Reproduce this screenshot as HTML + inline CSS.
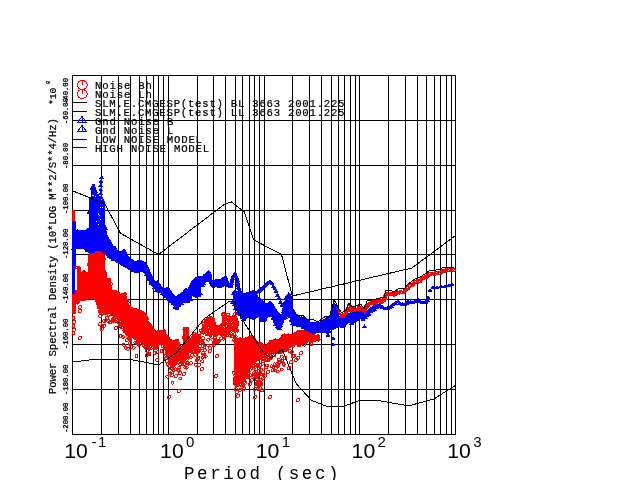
<!DOCTYPE html><html><head><meta charset="utf-8"><title>Noise PSD</title><style>
html,body{margin:0;padding:0;background:#fff;}svg{display:block;}
text{font-family:"Liberation Mono","DejaVu Sans Mono",monospace;fill:#000;stroke:#000;stroke-width:0.22px;}.t{stroke-width:0.3px;}.n{stroke:none;}
.s{font-family:"Liberation Sans","DejaVu Sans",sans-serif;}
</style></head><body>
<svg width="640" height="480" viewBox="0 0 640 480" shape-rendering="crispEdges">
<rect width="640" height="480" fill="#fff"/>
<path d="M72.5 75V435M101.5 75V435M118.5 75V435M130.5 75V435M139.5 75V435M146.5 75V435M153.5 75V435M158.5 75V435M163.5 75V435M168.5 75V435M197.5 75V435M213.5 75V435M225.5 75V435M235.5 75V435M242.5 75V435M249.5 75V435M254.5 75V435M259.5 75V435M264.5 75V435M292.5 75V435M309.5 75V435M321.5 75V435M331.5 75V435M338.5 75V435M344.5 75V435M350.5 75V435M355.5 75V435M359.5 75V435M388.5 75V435M405.5 75V435M417.5 75V435M426.5 75V435M434.5 75V435M440.5 75V435M446.5 75V435M451.5 75V435M455.5 75V435M72 75.5H456M72 120.5H456M72 165.5H456M72 210.5H456M72 254.5H456M72 299.5H456M72 344.5H456M72 389.5H456M72 434.5H456" stroke="#000" stroke-width="1" fill="none"/>
<polygon points="77,267 80,267 81,272 85,272 88,274 89,258 92,251 96,251 98,251 100,251 102,252 104,253 105,270 107,278 110,279 112,290 116,291 118,293 121,296 123,294 125,293 126,296 128,303 130,308 134,308 138,310 142,311 146,314 148,321 150,324 153,329 157,332 160,331 164,330 166,335 170,339 174,341 177,339 180,346 183,347 184,327 188,327 189,341 192,337 196,333 198,335 198,354 196,350 192,349 189,352 188,356 184,363 183,362 180,360 177,363 174,364 170,362 166,352 164,345 160,344 157,348 153,346 150,344 148,344 146,344 142,342 138,340 134,338 130,336 128,334 126,331 125,329 123,325 121,321 118,318 116,318 112,315 110,312 107,310 105,311 104,311 102,310 100,308 98,305 96,300 92,298 89,298 88,299 85,300 81,300 80,301 77,305" fill="#f00" stroke="#f00" stroke-width="1" stroke-linejoin="round"/>
<path d="M72 210h3v80h2.5v12h-1.5v12h-4z" fill="#f00"/>
<polygon points="234,338.5 238,338.5 240,337.5 244,339 248,337 250,336 252,335 254,338 256,340 258,342 262,343 265,346 268,345 270,341 275,339.5 278,341 280,338 284,335 288,334 292,334.5 296,332.5 300,330.5 304,330.5 308,330.5 310,334 314,335 319,335 319,340 314,341 310,341 308,342 304,343 300,344 296,344 292,345 288,349 284,352 280,353 278,353 275,353 270,353 268,353 265,355 262,358 258,360 256,362 254,364 252,364 250,366 248,371 244,374 240,376 238,376 234,374" fill="#f00" stroke="#f00" stroke-width="1" stroke-linejoin="round"/>
<path d="M75.3 267.6a1.5 1.5 0 1 0 3 0a1.5 1.5 0 1 0 -3 0M75.7 302.4a1.5 1.5 0 1 0 3 0a1.5 1.5 0 1 0 -3 0M76.8 268.2a1.5 1.5 0 1 0 3 0a1.5 1.5 0 1 0 -3 0M76.4 301.8a1.5 1.5 0 1 0 3 0a1.5 1.5 0 1 0 -3 0M77.6 268.3a1.5 1.5 0 1 0 3 0a1.5 1.5 0 1 0 -3 0M77.7 299.0a1.5 1.5 0 1 0 3 0a1.5 1.5 0 1 0 -3 0M79.3 273.8a1.5 1.5 0 1 0 3 0a1.5 1.5 0 1 0 -3 0M79.0 297.9a1.5 1.5 0 1 0 3 0a1.5 1.5 0 1 0 -3 0M80.8 274.7a1.5 1.5 0 1 0 3 0a1.5 1.5 0 1 0 -3 0M80.8 298.2a1.5 1.5 0 1 0 3 0a1.5 1.5 0 1 0 -3 0M82.5 272.3a1.5 1.5 0 1 0 3 0a1.5 1.5 0 1 0 -3 0M82.4 298.0a1.5 1.5 0 1 0 3 0a1.5 1.5 0 1 0 -3 0M82.9 272.5a1.5 1.5 0 1 0 3 0a1.5 1.5 0 1 0 -3 0M83.1 299.3a1.5 1.5 0 1 0 3 0a1.5 1.5 0 1 0 -3 0M84.3 274.4a1.5 1.5 0 1 0 3 0a1.5 1.5 0 1 0 -3 0M84.7 297.8a1.5 1.5 0 1 0 3 0a1.5 1.5 0 1 0 -3 0M85.9 274.0a1.5 1.5 0 1 0 3 0a1.5 1.5 0 1 0 -3 0M85.5 296.9a1.5 1.5 0 1 0 3 0a1.5 1.5 0 1 0 -3 0M87.4 264.1a1.5 1.5 0 1 0 3 0a1.5 1.5 0 1 0 -3 0M87.0 297.0a1.5 1.5 0 1 0 3 0a1.5 1.5 0 1 0 -3 0M88.5 256.6a1.5 1.5 0 1 0 3 0a1.5 1.5 0 1 0 -3 0M88.8 297.0a1.5 1.5 0 1 0 3 0a1.5 1.5 0 1 0 -3 0M89.5 254.3a1.5 1.5 0 1 0 3 0a1.5 1.5 0 1 0 -3 0M89.8 297.5a1.5 1.5 0 1 0 3 0a1.5 1.5 0 1 0 -3 0M91.3 251.9a1.5 1.5 0 1 0 3 0a1.5 1.5 0 1 0 -3 0M91.6 295.8a1.5 1.5 0 1 0 3 0a1.5 1.5 0 1 0 -3 0M92.3 253.2a1.5 1.5 0 1 0 3 0a1.5 1.5 0 1 0 -3 0M92.1 297.4a1.5 1.5 0 1 0 3 0a1.5 1.5 0 1 0 -3 0M93.2 252.9a1.5 1.5 0 1 0 3 0a1.5 1.5 0 1 0 -3 0M94.0 298.3a1.5 1.5 0 1 0 3 0a1.5 1.5 0 1 0 -3 0M95.4 252.0a1.5 1.5 0 1 0 3 0a1.5 1.5 0 1 0 -3 0M95.2 300.0a1.5 1.5 0 1 0 3 0a1.5 1.5 0 1 0 -3 0M96.4 252.4a1.5 1.5 0 1 0 3 0a1.5 1.5 0 1 0 -3 0M96.6 304.2a1.5 1.5 0 1 0 3 0a1.5 1.5 0 1 0 -3 0M97.6 252.9a1.5 1.5 0 1 0 3 0a1.5 1.5 0 1 0 -3 0M97.2 305.7a1.5 1.5 0 1 0 3 0a1.5 1.5 0 1 0 -3 0M99.0 254.0a1.5 1.5 0 1 0 3 0a1.5 1.5 0 1 0 -3 0M99.2 306.3a1.5 1.5 0 1 0 3 0a1.5 1.5 0 1 0 -3 0M100.1 253.8a1.5 1.5 0 1 0 3 0a1.5 1.5 0 1 0 -3 0M99.7 308.1a1.5 1.5 0 1 0 3 0a1.5 1.5 0 1 0 -3 0M101.2 253.0a1.5 1.5 0 1 0 3 0a1.5 1.5 0 1 0 -3 0M101.1 309.7a1.5 1.5 0 1 0 3 0a1.5 1.5 0 1 0 -3 0M102.4 258.9a1.5 1.5 0 1 0 3 0a1.5 1.5 0 1 0 -3 0M102.7 310.5a1.5 1.5 0 1 0 3 0a1.5 1.5 0 1 0 -3 0M103.7 273.8a1.5 1.5 0 1 0 3 0a1.5 1.5 0 1 0 -3 0M104.1 310.2a1.5 1.5 0 1 0 3 0a1.5 1.5 0 1 0 -3 0M105.7 280.0a1.5 1.5 0 1 0 3 0a1.5 1.5 0 1 0 -3 0M105.2 308.3a1.5 1.5 0 1 0 3 0a1.5 1.5 0 1 0 -3 0M106.6 280.9a1.5 1.5 0 1 0 3 0a1.5 1.5 0 1 0 -3 0M107.2 308.4a1.5 1.5 0 1 0 3 0a1.5 1.5 0 1 0 -3 0M107.7 279.6a1.5 1.5 0 1 0 3 0a1.5 1.5 0 1 0 -3 0M107.7 310.1a1.5 1.5 0 1 0 3 0a1.5 1.5 0 1 0 -3 0M109.4 284.3a1.5 1.5 0 1 0 3 0a1.5 1.5 0 1 0 -3 0M108.8 311.5a1.5 1.5 0 1 0 3 0a1.5 1.5 0 1 0 -3 0M110.5 291.7a1.5 1.5 0 1 0 3 0a1.5 1.5 0 1 0 -3 0M111.1 314.1a1.5 1.5 0 1 0 3 0a1.5 1.5 0 1 0 -3 0M111.9 292.2a1.5 1.5 0 1 0 3 0a1.5 1.5 0 1 0 -3 0M112.1 313.4a1.5 1.5 0 1 0 3 0a1.5 1.5 0 1 0 -3 0M113.6 292.9a1.5 1.5 0 1 0 3 0a1.5 1.5 0 1 0 -3 0M113.6 316.3a1.5 1.5 0 1 0 3 0a1.5 1.5 0 1 0 -3 0M114.4 292.2a1.5 1.5 0 1 0 3 0a1.5 1.5 0 1 0 -3 0M114.1 316.8a1.5 1.5 0 1 0 3 0a1.5 1.5 0 1 0 -3 0M115.4 292.7a1.5 1.5 0 1 0 3 0a1.5 1.5 0 1 0 -3 0M115.5 315.6a1.5 1.5 0 1 0 3 0a1.5 1.5 0 1 0 -3 0M116.9 293.9a1.5 1.5 0 1 0 3 0a1.5 1.5 0 1 0 -3 0M116.6 316.2a1.5 1.5 0 1 0 3 0a1.5 1.5 0 1 0 -3 0M118.0 296.0a1.5 1.5 0 1 0 3 0a1.5 1.5 0 1 0 -3 0M117.9 319.4a1.5 1.5 0 1 0 3 0a1.5 1.5 0 1 0 -3 0M119.8 296.4a1.5 1.5 0 1 0 3 0a1.5 1.5 0 1 0 -3 0M119.5 319.5a1.5 1.5 0 1 0 3 0a1.5 1.5 0 1 0 -3 0M120.9 295.0a1.5 1.5 0 1 0 3 0a1.5 1.5 0 1 0 -3 0M121.3 323.8a1.5 1.5 0 1 0 3 0a1.5 1.5 0 1 0 -3 0M122.3 295.1a1.5 1.5 0 1 0 3 0a1.5 1.5 0 1 0 -3 0M121.9 324.1a1.5 1.5 0 1 0 3 0a1.5 1.5 0 1 0 -3 0M123.4 294.2a1.5 1.5 0 1 0 3 0a1.5 1.5 0 1 0 -3 0M123.9 326.8a1.5 1.5 0 1 0 3 0a1.5 1.5 0 1 0 -3 0M124.4 300.1a1.5 1.5 0 1 0 3 0a1.5 1.5 0 1 0 -3 0M124.9 329.2a1.5 1.5 0 1 0 3 0a1.5 1.5 0 1 0 -3 0M126.2 302.2a1.5 1.5 0 1 0 3 0a1.5 1.5 0 1 0 -3 0M126.2 333.3a1.5 1.5 0 1 0 3 0a1.5 1.5 0 1 0 -3 0M127.9 307.5a1.5 1.5 0 1 0 3 0a1.5 1.5 0 1 0 -3 0M127.3 333.2a1.5 1.5 0 1 0 3 0a1.5 1.5 0 1 0 -3 0M128.5 310.2a1.5 1.5 0 1 0 3 0a1.5 1.5 0 1 0 -3 0M128.8 335.4a1.5 1.5 0 1 0 3 0a1.5 1.5 0 1 0 -3 0M129.9 308.8a1.5 1.5 0 1 0 3 0a1.5 1.5 0 1 0 -3 0M130.4 336.6a1.5 1.5 0 1 0 3 0a1.5 1.5 0 1 0 -3 0M131.8 310.3a1.5 1.5 0 1 0 3 0a1.5 1.5 0 1 0 -3 0M131.7 336.6a1.5 1.5 0 1 0 3 0a1.5 1.5 0 1 0 -3 0M132.4 309.6a1.5 1.5 0 1 0 3 0a1.5 1.5 0 1 0 -3 0M132.6 335.4a1.5 1.5 0 1 0 3 0a1.5 1.5 0 1 0 -3 0M133.5 309.7a1.5 1.5 0 1 0 3 0a1.5 1.5 0 1 0 -3 0M133.8 337.8a1.5 1.5 0 1 0 3 0a1.5 1.5 0 1 0 -3 0M135.8 310.8a1.5 1.5 0 1 0 3 0a1.5 1.5 0 1 0 -3 0M135.7 339.2a1.5 1.5 0 1 0 3 0a1.5 1.5 0 1 0 -3 0M137.1 311.2a1.5 1.5 0 1 0 3 0a1.5 1.5 0 1 0 -3 0M136.3 337.8a1.5 1.5 0 1 0 3 0a1.5 1.5 0 1 0 -3 0M137.6 311.1a1.5 1.5 0 1 0 3 0a1.5 1.5 0 1 0 -3 0M138.0 340.2a1.5 1.5 0 1 0 3 0a1.5 1.5 0 1 0 -3 0M139.5 312.1a1.5 1.5 0 1 0 3 0a1.5 1.5 0 1 0 -3 0M139.4 340.6a1.5 1.5 0 1 0 3 0a1.5 1.5 0 1 0 -3 0M140.1 312.9a1.5 1.5 0 1 0 3 0a1.5 1.5 0 1 0 -3 0M140.9 341.2a1.5 1.5 0 1 0 3 0a1.5 1.5 0 1 0 -3 0M142.1 313.4a1.5 1.5 0 1 0 3 0a1.5 1.5 0 1 0 -3 0M141.5 341.9a1.5 1.5 0 1 0 3 0a1.5 1.5 0 1 0 -3 0M142.9 315.2a1.5 1.5 0 1 0 3 0a1.5 1.5 0 1 0 -3 0M143.6 341.5a1.5 1.5 0 1 0 3 0a1.5 1.5 0 1 0 -3 0M144.3 316.6a1.5 1.5 0 1 0 3 0a1.5 1.5 0 1 0 -3 0M144.6 341.6a1.5 1.5 0 1 0 3 0a1.5 1.5 0 1 0 -3 0M145.3 318.8a1.5 1.5 0 1 0 3 0a1.5 1.5 0 1 0 -3 0M146.1 343.3a1.5 1.5 0 1 0 3 0a1.5 1.5 0 1 0 -3 0M146.6 324.1a1.5 1.5 0 1 0 3 0a1.5 1.5 0 1 0 -3 0M147.5 342.9a1.5 1.5 0 1 0 3 0a1.5 1.5 0 1 0 -3 0M148.2 325.3a1.5 1.5 0 1 0 3 0a1.5 1.5 0 1 0 -3 0M147.9 341.2a1.5 1.5 0 1 0 3 0a1.5 1.5 0 1 0 -3 0M150.1 327.7a1.5 1.5 0 1 0 3 0a1.5 1.5 0 1 0 -3 0M149.6 344.4a1.5 1.5 0 1 0 3 0a1.5 1.5 0 1 0 -3 0M150.8 330.5a1.5 1.5 0 1 0 3 0a1.5 1.5 0 1 0 -3 0M151.2 343.3a1.5 1.5 0 1 0 3 0a1.5 1.5 0 1 0 -3 0M152.0 330.5a1.5 1.5 0 1 0 3 0a1.5 1.5 0 1 0 -3 0M151.9 345.1a1.5 1.5 0 1 0 3 0a1.5 1.5 0 1 0 -3 0M153.3 331.8a1.5 1.5 0 1 0 3 0a1.5 1.5 0 1 0 -3 0M153.1 346.6a1.5 1.5 0 1 0 3 0a1.5 1.5 0 1 0 -3 0M154.7 332.9a1.5 1.5 0 1 0 3 0a1.5 1.5 0 1 0 -3 0M154.9 347.2a1.5 1.5 0 1 0 3 0a1.5 1.5 0 1 0 -3 0M156.0 334.4a1.5 1.5 0 1 0 3 0a1.5 1.5 0 1 0 -3 0M156.1 345.8a1.5 1.5 0 1 0 3 0a1.5 1.5 0 1 0 -3 0M157.4 331.6a1.5 1.5 0 1 0 3 0a1.5 1.5 0 1 0 -3 0M157.3 343.1a1.5 1.5 0 1 0 3 0a1.5 1.5 0 1 0 -3 0M158.2 333.2a1.5 1.5 0 1 0 3 0a1.5 1.5 0 1 0 -3 0M158.4 342.5a1.5 1.5 0 1 0 3 0a1.5 1.5 0 1 0 -3 0M160.2 332.3a1.5 1.5 0 1 0 3 0a1.5 1.5 0 1 0 -3 0M159.8 342.9a1.5 1.5 0 1 0 3 0a1.5 1.5 0 1 0 -3 0M161.4 332.5a1.5 1.5 0 1 0 3 0a1.5 1.5 0 1 0 -3 0M160.9 343.4a1.5 1.5 0 1 0 3 0a1.5 1.5 0 1 0 -3 0M162.3 331.2a1.5 1.5 0 1 0 3 0a1.5 1.5 0 1 0 -3 0M162.9 343.9a1.5 1.5 0 1 0 3 0a1.5 1.5 0 1 0 -3 0M164.0 335.7a1.5 1.5 0 1 0 3 0a1.5 1.5 0 1 0 -3 0M164.3 348.3a1.5 1.5 0 1 0 3 0a1.5 1.5 0 1 0 -3 0M165.3 337.2a1.5 1.5 0 1 0 3 0a1.5 1.5 0 1 0 -3 0M165.2 352.8a1.5 1.5 0 1 0 3 0a1.5 1.5 0 1 0 -3 0M166.5 338.6a1.5 1.5 0 1 0 3 0a1.5 1.5 0 1 0 -3 0M166.5 356.6a1.5 1.5 0 1 0 3 0a1.5 1.5 0 1 0 -3 0M168.0 340.8a1.5 1.5 0 1 0 3 0a1.5 1.5 0 1 0 -3 0M168.2 358.1a1.5 1.5 0 1 0 3 0a1.5 1.5 0 1 0 -3 0M169.2 342.0a1.5 1.5 0 1 0 3 0a1.5 1.5 0 1 0 -3 0M169.4 359.9a1.5 1.5 0 1 0 3 0a1.5 1.5 0 1 0 -3 0M170.0 341.3a1.5 1.5 0 1 0 3 0a1.5 1.5 0 1 0 -3 0M170.0 360.8a1.5 1.5 0 1 0 3 0a1.5 1.5 0 1 0 -3 0M171.3 342.5a1.5 1.5 0 1 0 3 0a1.5 1.5 0 1 0 -3 0M172.0 363.1a1.5 1.5 0 1 0 3 0a1.5 1.5 0 1 0 -3 0M172.7 342.7a1.5 1.5 0 1 0 3 0a1.5 1.5 0 1 0 -3 0M173.2 361.4a1.5 1.5 0 1 0 3 0a1.5 1.5 0 1 0 -3 0M174.7 342.5a1.5 1.5 0 1 0 3 0a1.5 1.5 0 1 0 -3 0M174.0 363.1a1.5 1.5 0 1 0 3 0a1.5 1.5 0 1 0 -3 0M175.5 340.7a1.5 1.5 0 1 0 3 0a1.5 1.5 0 1 0 -3 0M176.1 362.3a1.5 1.5 0 1 0 3 0a1.5 1.5 0 1 0 -3 0M176.6 343.6a1.5 1.5 0 1 0 3 0a1.5 1.5 0 1 0 -3 0M176.9 359.7a1.5 1.5 0 1 0 3 0a1.5 1.5 0 1 0 -3 0M177.9 346.3a1.5 1.5 0 1 0 3 0a1.5 1.5 0 1 0 -3 0M178.4 357.6a1.5 1.5 0 1 0 3 0a1.5 1.5 0 1 0 -3 0M179.6 347.7a1.5 1.5 0 1 0 3 0a1.5 1.5 0 1 0 -3 0M179.0 358.7a1.5 1.5 0 1 0 3 0a1.5 1.5 0 1 0 -3 0M180.9 348.3a1.5 1.5 0 1 0 3 0a1.5 1.5 0 1 0 -3 0M180.4 361.3a1.5 1.5 0 1 0 3 0a1.5 1.5 0 1 0 -3 0M182.4 337.7a1.5 1.5 0 1 0 3 0a1.5 1.5 0 1 0 -3 0M181.7 360.5a1.5 1.5 0 1 0 3 0a1.5 1.5 0 1 0 -3 0M182.9 329.2a1.5 1.5 0 1 0 3 0a1.5 1.5 0 1 0 -3 0M183.2 359.0a1.5 1.5 0 1 0 3 0a1.5 1.5 0 1 0 -3 0M184.6 329.6a1.5 1.5 0 1 0 3 0a1.5 1.5 0 1 0 -3 0M185.0 357.0a1.5 1.5 0 1 0 3 0a1.5 1.5 0 1 0 -3 0M185.6 329.6a1.5 1.5 0 1 0 3 0a1.5 1.5 0 1 0 -3 0M186.1 355.9a1.5 1.5 0 1 0 3 0a1.5 1.5 0 1 0 -3 0M186.9 338.5a1.5 1.5 0 1 0 3 0a1.5 1.5 0 1 0 -3 0M187.5 351.1a1.5 1.5 0 1 0 3 0a1.5 1.5 0 1 0 -3 0M188.2 342.2a1.5 1.5 0 1 0 3 0a1.5 1.5 0 1 0 -3 0M188.7 350.2a1.5 1.5 0 1 0 3 0a1.5 1.5 0 1 0 -3 0M189.5 340.2a1.5 1.5 0 1 0 3 0a1.5 1.5 0 1 0 -3 0M189.5 349.0a1.5 1.5 0 1 0 3 0a1.5 1.5 0 1 0 -3 0M191.2 337.4a1.5 1.5 0 1 0 3 0a1.5 1.5 0 1 0 -3 0M191.3 348.8a1.5 1.5 0 1 0 3 0a1.5 1.5 0 1 0 -3 0M192.3 335.5a1.5 1.5 0 1 0 3 0a1.5 1.5 0 1 0 -3 0M192.5 347.3a1.5 1.5 0 1 0 3 0a1.5 1.5 0 1 0 -3 0M193.4 334.3a1.5 1.5 0 1 0 3 0a1.5 1.5 0 1 0 -3 0M193.4 347.5a1.5 1.5 0 1 0 3 0a1.5 1.5 0 1 0 -3 0M194.9 334.6a1.5 1.5 0 1 0 3 0a1.5 1.5 0 1 0 -3 0M195.4 349.2a1.5 1.5 0 1 0 3 0a1.5 1.5 0 1 0 -3 0M196.4 335.6a1.5 1.5 0 1 0 3 0a1.5 1.5 0 1 0 -3 0M196.2 351.0a1.5 1.5 0 1 0 3 0a1.5 1.5 0 1 0 -3 0M123.0 329.2a1.5 1.5 0 1 0 3 0a1.5 1.5 0 1 0 -3 0M170.3 367.9a1.5 1.5 0 1 0 3 0a1.5 1.5 0 1 0 -3 0M117.1 322.8a1.5 1.5 0 1 0 3 0a1.5 1.5 0 1 0 -3 0M190.1 351.0a1.5 1.5 0 1 0 3 0a1.5 1.5 0 1 0 -3 0M178.8 364.0a1.5 1.5 0 1 0 3 0a1.5 1.5 0 1 0 -3 0M147.0 354.0a1.5 1.5 0 1 0 3 0a1.5 1.5 0 1 0 -3 0M137.0 344.8a1.5 1.5 0 1 0 3 0a1.5 1.5 0 1 0 -3 0M165.9 376.7a1.5 1.5 0 1 0 3 0a1.5 1.5 0 1 0 -3 0M132.1 347.7a1.5 1.5 0 1 0 3 0a1.5 1.5 0 1 0 -3 0M167.8 366.2a1.5 1.5 0 1 0 3 0a1.5 1.5 0 1 0 -3 0M138.2 344.0a1.5 1.5 0 1 0 3 0a1.5 1.5 0 1 0 -3 0M103.8 312.5a1.5 1.5 0 1 0 3 0a1.5 1.5 0 1 0 -3 0M105.4 317.8a1.5 1.5 0 1 0 3 0a1.5 1.5 0 1 0 -3 0M123.5 331.0a1.5 1.5 0 1 0 3 0a1.5 1.5 0 1 0 -3 0M106.8 321.1a1.5 1.5 0 1 0 3 0a1.5 1.5 0 1 0 -3 0M183.8 367.3a1.5 1.5 0 1 0 3 0a1.5 1.5 0 1 0 -3 0M126.1 335.8a1.5 1.5 0 1 0 3 0a1.5 1.5 0 1 0 -3 0M127.2 338.8a1.5 1.5 0 1 0 3 0a1.5 1.5 0 1 0 -3 0M113.9 321.5a1.5 1.5 0 1 0 3 0a1.5 1.5 0 1 0 -3 0M124.3 347.9a1.5 1.5 0 1 0 3 0a1.5 1.5 0 1 0 -3 0M193.8 354.8a1.5 1.5 0 1 0 3 0a1.5 1.5 0 1 0 -3 0M122.5 344.8a1.5 1.5 0 1 0 3 0a1.5 1.5 0 1 0 -3 0M128.8 339.4a1.5 1.5 0 1 0 3 0a1.5 1.5 0 1 0 -3 0M98.6 311.5a1.5 1.5 0 1 0 3 0a1.5 1.5 0 1 0 -3 0M145.0 348.5a1.5 1.5 0 1 0 3 0a1.5 1.5 0 1 0 -3 0M118.2 324.2a1.5 1.5 0 1 0 3 0a1.5 1.5 0 1 0 -3 0M99.0 311.0a1.5 1.5 0 1 0 3 0a1.5 1.5 0 1 0 -3 0M107.3 314.7a1.5 1.5 0 1 0 3 0a1.5 1.5 0 1 0 -3 0M102.6 312.1a1.5 1.5 0 1 0 3 0a1.5 1.5 0 1 0 -3 0M128.3 338.1a1.5 1.5 0 1 0 3 0a1.5 1.5 0 1 0 -3 0M155.9 352.3a1.5 1.5 0 1 0 3 0a1.5 1.5 0 1 0 -3 0M172.1 370.1a1.5 1.5 0 1 0 3 0a1.5 1.5 0 1 0 -3 0M168.7 373.6a1.5 1.5 0 1 0 3 0a1.5 1.5 0 1 0 -3 0M136.7 343.1a1.5 1.5 0 1 0 3 0a1.5 1.5 0 1 0 -3 0M195.0 352.8a1.5 1.5 0 1 0 3 0a1.5 1.5 0 1 0 -3 0M169.5 368.6a1.5 1.5 0 1 0 3 0a1.5 1.5 0 1 0 -3 0M102.8 321.0a1.5 1.5 0 1 0 3 0a1.5 1.5 0 1 0 -3 0M185.9 363.0a1.5 1.5 0 1 0 3 0a1.5 1.5 0 1 0 -3 0M170.4 372.3a1.5 1.5 0 1 0 3 0a1.5 1.5 0 1 0 -3 0M112.2 320.9a1.5 1.5 0 1 0 3 0a1.5 1.5 0 1 0 -3 0M147.9 354.0a1.5 1.5 0 1 0 3 0a1.5 1.5 0 1 0 -3 0M177.4 370.9a1.5 1.5 0 1 0 3 0a1.5 1.5 0 1 0 -3 0M155.7 359.8a1.5 1.5 0 1 0 3 0a1.5 1.5 0 1 0 -3 0M165.4 361.2a1.5 1.5 0 1 0 3 0a1.5 1.5 0 1 0 -3 0M121.0 325.2a1.5 1.5 0 1 0 3 0a1.5 1.5 0 1 0 -3 0M111.5 319.0a1.5 1.5 0 1 0 3 0a1.5 1.5 0 1 0 -3 0M108.8 322.5a1.5 1.5 0 1 0 3 0a1.5 1.5 0 1 0 -3 0M153.2 352.8a1.5 1.5 0 1 0 3 0a1.5 1.5 0 1 0 -3 0M159.9 351.1a1.5 1.5 0 1 0 3 0a1.5 1.5 0 1 0 -3 0M146.5 345.0a1.5 1.5 0 1 0 3 0a1.5 1.5 0 1 0 -3 0M176.7 369.7a1.5 1.5 0 1 0 3 0a1.5 1.5 0 1 0 -3 0M147.8 348.8a1.5 1.5 0 1 0 3 0a1.5 1.5 0 1 0 -3 0M163.1 348.5a1.5 1.5 0 1 0 3 0a1.5 1.5 0 1 0 -3 0M170.7 365.6a1.5 1.5 0 1 0 3 0a1.5 1.5 0 1 0 -3 0M105.8 312.7a1.5 1.5 0 1 0 3 0a1.5 1.5 0 1 0 -3 0M170.0 364.9a1.5 1.5 0 1 0 3 0a1.5 1.5 0 1 0 -3 0M171.0 382.8a1.5 1.5 0 1 0 3 0a1.5 1.5 0 1 0 -3 0M146.9 347.4a1.5 1.5 0 1 0 3 0a1.5 1.5 0 1 0 -3 0M145.4 350.8a1.5 1.5 0 1 0 3 0a1.5 1.5 0 1 0 -3 0M173.7 369.4a1.5 1.5 0 1 0 3 0a1.5 1.5 0 1 0 -3 0M161.5 346.2a1.5 1.5 0 1 0 3 0a1.5 1.5 0 1 0 -3 0M112.9 319.3a1.5 1.5 0 1 0 3 0a1.5 1.5 0 1 0 -3 0M171.3 366.2a1.5 1.5 0 1 0 3 0a1.5 1.5 0 1 0 -3 0M154.1 348.4a1.5 1.5 0 1 0 3 0a1.5 1.5 0 1 0 -3 0M104.4 313.1a1.5 1.5 0 1 0 3 0a1.5 1.5 0 1 0 -3 0M164.4 358.4a1.5 1.5 0 1 0 3 0a1.5 1.5 0 1 0 -3 0M164.7 355.3a1.5 1.5 0 1 0 3 0a1.5 1.5 0 1 0 -3 0M149.1 348.5a1.5 1.5 0 1 0 3 0a1.5 1.5 0 1 0 -3 0M144.2 345.5a1.5 1.5 0 1 0 3 0a1.5 1.5 0 1 0 -3 0M186.1 358.8a1.5 1.5 0 1 0 3 0a1.5 1.5 0 1 0 -3 0M194.4 364.7a1.5 1.5 0 1 0 3 0a1.5 1.5 0 1 0 -3 0M100.2 313.8a1.5 1.5 0 1 0 3 0a1.5 1.5 0 1 0 -3 0M178.8 378.5a1.5 1.5 0 1 0 3 0a1.5 1.5 0 1 0 -3 0M142.5 345.6a1.5 1.5 0 1 0 3 0a1.5 1.5 0 1 0 -3 0M119.1 336.1a1.5 1.5 0 1 0 3 0a1.5 1.5 0 1 0 -3 0M119.1 326.0a1.5 1.5 0 1 0 3 0a1.5 1.5 0 1 0 -3 0M112.4 321.1a1.5 1.5 0 1 0 3 0a1.5 1.5 0 1 0 -3 0M191.9 351.1a1.5 1.5 0 1 0 3 0a1.5 1.5 0 1 0 -3 0M178.9 364.8a1.5 1.5 0 1 0 3 0a1.5 1.5 0 1 0 -3 0M185.4 365.0a1.5 1.5 0 1 0 3 0a1.5 1.5 0 1 0 -3 0M121.2 336.8a1.5 1.5 0 1 0 3 0a1.5 1.5 0 1 0 -3 0M146.1 345.1a1.5 1.5 0 1 0 3 0a1.5 1.5 0 1 0 -3 0M98.9 312.7a1.5 1.5 0 1 0 3 0a1.5 1.5 0 1 0 -3 0M142.7 345.9a1.5 1.5 0 1 0 3 0a1.5 1.5 0 1 0 -3 0M112.3 319.4a1.5 1.5 0 1 0 3 0a1.5 1.5 0 1 0 -3 0M129.5 346.7a1.5 1.5 0 1 0 3 0a1.5 1.5 0 1 0 -3 0M98.7 316.1a1.5 1.5 0 1 0 3 0a1.5 1.5 0 1 0 -3 0M180.7 363.1a1.5 1.5 0 1 0 3 0a1.5 1.5 0 1 0 -3 0M189.3 357.5a1.5 1.5 0 1 0 3 0a1.5 1.5 0 1 0 -3 0M186.9 357.3a1.5 1.5 0 1 0 3 0a1.5 1.5 0 1 0 -3 0M135.0 342.7a1.5 1.5 0 1 0 3 0a1.5 1.5 0 1 0 -3 0M196.4 359.2a1.5 1.5 0 1 0 3 0a1.5 1.5 0 1 0 -3 0M133.8 342.5a1.5 1.5 0 1 0 3 0a1.5 1.5 0 1 0 -3 0M125.5 333.7a1.5 1.5 0 1 0 3 0a1.5 1.5 0 1 0 -3 0M108.5 322.0a1.5 1.5 0 1 0 3 0a1.5 1.5 0 1 0 -3 0M126.5 348.7a1.5 1.5 0 1 0 3 0a1.5 1.5 0 1 0 -3 0M122.9 330.4a1.5 1.5 0 1 0 3 0a1.5 1.5 0 1 0 -3 0M148.6 346.1a1.5 1.5 0 1 0 3 0a1.5 1.5 0 1 0 -3 0M135.1 355.9a1.5 1.5 0 1 0 3 0a1.5 1.5 0 1 0 -3 0M185.2 367.7a1.5 1.5 0 1 0 3 0a1.5 1.5 0 1 0 -3 0M78.5 307.0a1.5 1.5 0 1 0 3 0a1.5 1.5 0 1 0 -3 0M78.5 311.0a1.5 1.5 0 1 0 3 0a1.5 1.5 0 1 0 -3 0M72.0 318.0a1.5 1.5 0 1 0 3 0a1.5 1.5 0 1 0 -3 0M72.5 322.0a1.5 1.5 0 1 0 3 0a1.5 1.5 0 1 0 -3 0M72.0 326.0a1.5 1.5 0 1 0 3 0a1.5 1.5 0 1 0 -3 0M72.5 330.0a1.5 1.5 0 1 0 3 0a1.5 1.5 0 1 0 -3 0M72.0 333.0a1.5 1.5 0 1 0 3 0a1.5 1.5 0 1 0 -3 0M78.5 338.0a1.5 1.5 0 1 0 3 0a1.5 1.5 0 1 0 -3 0M98.5 324.0a1.5 1.5 0 1 0 3 0a1.5 1.5 0 1 0 -3 0M100.5 326.0a1.5 1.5 0 1 0 3 0a1.5 1.5 0 1 0 -3 0M102.5 326.0a1.5 1.5 0 1 0 3 0a1.5 1.5 0 1 0 -3 0M100.5 329.0a1.5 1.5 0 1 0 3 0a1.5 1.5 0 1 0 -3 0M104.5 320.0a1.5 1.5 0 1 0 3 0a1.5 1.5 0 1 0 -3 0M97.5 307.0a1.5 1.5 0 1 0 3 0a1.5 1.5 0 1 0 -3 0M114.5 328.0a1.5 1.5 0 1 0 3 0a1.5 1.5 0 1 0 -3 0M120.5 327.0a1.5 1.5 0 1 0 3 0a1.5 1.5 0 1 0 -3 0M125.5 340.0a1.5 1.5 0 1 0 3 0a1.5 1.5 0 1 0 -3 0M128.5 343.0a1.5 1.5 0 1 0 3 0a1.5 1.5 0 1 0 -3 0M132.5 335.0a1.5 1.5 0 1 0 3 0a1.5 1.5 0 1 0 -3 0M145.5 355.0a1.5 1.5 0 1 0 3 0a1.5 1.5 0 1 0 -3 0M166.5 364.0a1.5 1.5 0 1 0 3 0a1.5 1.5 0 1 0 -3 0M169.5 363.0a1.5 1.5 0 1 0 3 0a1.5 1.5 0 1 0 -3 0M173.5 364.0a1.5 1.5 0 1 0 3 0a1.5 1.5 0 1 0 -3 0M177.5 368.0a1.5 1.5 0 1 0 3 0a1.5 1.5 0 1 0 -3 0M170.5 375.0a1.5 1.5 0 1 0 3 0a1.5 1.5 0 1 0 -3 0M174.5 376.0a1.5 1.5 0 1 0 3 0a1.5 1.5 0 1 0 -3 0M178.5 373.0a1.5 1.5 0 1 0 3 0a1.5 1.5 0 1 0 -3 0M182.5 374.0a1.5 1.5 0 1 0 3 0a1.5 1.5 0 1 0 -3 0M182.5 364.0a1.5 1.5 0 1 0 3 0a1.5 1.5 0 1 0 -3 0M189.5 363.0a1.5 1.5 0 1 0 3 0a1.5 1.5 0 1 0 -3 0M177.5 391.0a1.5 1.5 0 1 0 3 0a1.5 1.5 0 1 0 -3 0M167.5 397.0a1.5 1.5 0 1 0 3 0a1.5 1.5 0 1 0 -3 0M195.5 360.0a1.5 1.5 0 1 0 3 0a1.5 1.5 0 1 0 -3 0M197.5 365.0a1.5 1.5 0 1 0 3 0a1.5 1.5 0 1 0 -3 0M200.5 369.0a1.5 1.5 0 1 0 3 0a1.5 1.5 0 1 0 -3 0M201.5 353.0a1.5 1.5 0 1 0 3 0a1.5 1.5 0 1 0 -3 0M201.5 346.0a1.5 1.5 0 1 0 3 0a1.5 1.5 0 1 0 -3 0M201.5 343.0a1.5 1.5 0 1 0 3 0a1.5 1.5 0 1 0 -3 0M201.5 357.0a1.5 1.5 0 1 0 3 0a1.5 1.5 0 1 0 -3 0M190.5 355.0a1.5 1.5 0 1 0 3 0a1.5 1.5 0 1 0 -3 0M208.5 351.0a1.5 1.5 0 1 0 3 0a1.5 1.5 0 1 0 -3 0M215.5 356.0a1.5 1.5 0 1 0 3 0a1.5 1.5 0 1 0 -3 0M214.5 376.0a1.5 1.5 0 1 0 3 0a1.5 1.5 0 1 0 -3 0M215.5 342.0a1.5 1.5 0 1 0 3 0a1.5 1.5 0 1 0 -3 0M223.2 333.1a1.5 1.5 0 1 0 3 0a1.5 1.5 0 1 0 -3 0M234.4 324.8a1.5 1.5 0 1 0 3 0a1.5 1.5 0 1 0 -3 0M226.4 317.0a1.5 1.5 0 1 0 3 0a1.5 1.5 0 1 0 -3 0M226.9 324.4a1.5 1.5 0 1 0 3 0a1.5 1.5 0 1 0 -3 0M227.6 327.5a1.5 1.5 0 1 0 3 0a1.5 1.5 0 1 0 -3 0M210.8 318.9a1.5 1.5 0 1 0 3 0a1.5 1.5 0 1 0 -3 0M233.9 319.6a1.5 1.5 0 1 0 3 0a1.5 1.5 0 1 0 -3 0M217.5 330.4a1.5 1.5 0 1 0 3 0a1.5 1.5 0 1 0 -3 0M211.2 330.1a1.5 1.5 0 1 0 3 0a1.5 1.5 0 1 0 -3 0M235.6 324.2a1.5 1.5 0 1 0 3 0a1.5 1.5 0 1 0 -3 0M224.1 319.4a1.5 1.5 0 1 0 3 0a1.5 1.5 0 1 0 -3 0M220.6 324.8a1.5 1.5 0 1 0 3 0a1.5 1.5 0 1 0 -3 0M206.5 321.3a1.5 1.5 0 1 0 3 0a1.5 1.5 0 1 0 -3 0M208.0 333.6a1.5 1.5 0 1 0 3 0a1.5 1.5 0 1 0 -3 0M218.4 327.3a1.5 1.5 0 1 0 3 0a1.5 1.5 0 1 0 -3 0M233.1 330.0a1.5 1.5 0 1 0 3 0a1.5 1.5 0 1 0 -3 0M216.7 329.4a1.5 1.5 0 1 0 3 0a1.5 1.5 0 1 0 -3 0M207.4 319.8a1.5 1.5 0 1 0 3 0a1.5 1.5 0 1 0 -3 0M212.8 323.2a1.5 1.5 0 1 0 3 0a1.5 1.5 0 1 0 -3 0M209.1 322.2a1.5 1.5 0 1 0 3 0a1.5 1.5 0 1 0 -3 0M221.0 333.1a1.5 1.5 0 1 0 3 0a1.5 1.5 0 1 0 -3 0M227.5 324.6a1.5 1.5 0 1 0 3 0a1.5 1.5 0 1 0 -3 0M215.4 332.7a1.5 1.5 0 1 0 3 0a1.5 1.5 0 1 0 -3 0M214.1 328.4a1.5 1.5 0 1 0 3 0a1.5 1.5 0 1 0 -3 0M202.7 325.5a1.5 1.5 0 1 0 3 0a1.5 1.5 0 1 0 -3 0M235.3 322.0a1.5 1.5 0 1 0 3 0a1.5 1.5 0 1 0 -3 0M218.6 331.6a1.5 1.5 0 1 0 3 0a1.5 1.5 0 1 0 -3 0M231.6 319.4a1.5 1.5 0 1 0 3 0a1.5 1.5 0 1 0 -3 0M210.3 321.7a1.5 1.5 0 1 0 3 0a1.5 1.5 0 1 0 -3 0M214.9 331.1a1.5 1.5 0 1 0 3 0a1.5 1.5 0 1 0 -3 0M234.8 329.0a1.5 1.5 0 1 0 3 0a1.5 1.5 0 1 0 -3 0M231.9 317.1a1.5 1.5 0 1 0 3 0a1.5 1.5 0 1 0 -3 0M201.7 331.8a1.5 1.5 0 1 0 3 0a1.5 1.5 0 1 0 -3 0M232.7 323.3a1.5 1.5 0 1 0 3 0a1.5 1.5 0 1 0 -3 0M221.6 314.4a1.5 1.5 0 1 0 3 0a1.5 1.5 0 1 0 -3 0M214.6 334.5a1.5 1.5 0 1 0 3 0a1.5 1.5 0 1 0 -3 0M230.2 328.7a1.5 1.5 0 1 0 3 0a1.5 1.5 0 1 0 -3 0M235.5 323.7a1.5 1.5 0 1 0 3 0a1.5 1.5 0 1 0 -3 0M204.4 322.4a1.5 1.5 0 1 0 3 0a1.5 1.5 0 1 0 -3 0M219.3 331.6a1.5 1.5 0 1 0 3 0a1.5 1.5 0 1 0 -3 0M234.4 326.8a1.5 1.5 0 1 0 3 0a1.5 1.5 0 1 0 -3 0M223.8 329.6a1.5 1.5 0 1 0 3 0a1.5 1.5 0 1 0 -3 0M217.0 332.4a1.5 1.5 0 1 0 3 0a1.5 1.5 0 1 0 -3 0M201.9 332.7a1.5 1.5 0 1 0 3 0a1.5 1.5 0 1 0 -3 0M208.9 333.5a1.5 1.5 0 1 0 3 0a1.5 1.5 0 1 0 -3 0M223.7 319.4a1.5 1.5 0 1 0 3 0a1.5 1.5 0 1 0 -3 0M205.1 323.6a1.5 1.5 0 1 0 3 0a1.5 1.5 0 1 0 -3 0M223.4 328.2a1.5 1.5 0 1 0 3 0a1.5 1.5 0 1 0 -3 0M204.5 320.9a1.5 1.5 0 1 0 3 0a1.5 1.5 0 1 0 -3 0M219.4 330.1a1.5 1.5 0 1 0 3 0a1.5 1.5 0 1 0 -3 0M214.5 328.3a1.5 1.5 0 1 0 3 0a1.5 1.5 0 1 0 -3 0M222.1 314.1a1.5 1.5 0 1 0 3 0a1.5 1.5 0 1 0 -3 0M211.4 326.0a1.5 1.5 0 1 0 3 0a1.5 1.5 0 1 0 -3 0M235.0 327.0a1.5 1.5 0 1 0 3 0a1.5 1.5 0 1 0 -3 0M232.3 323.2a1.5 1.5 0 1 0 3 0a1.5 1.5 0 1 0 -3 0M209.0 322.1a1.5 1.5 0 1 0 3 0a1.5 1.5 0 1 0 -3 0M235.1 327.9a1.5 1.5 0 1 0 3 0a1.5 1.5 0 1 0 -3 0M211.6 319.9a1.5 1.5 0 1 0 3 0a1.5 1.5 0 1 0 -3 0M218.4 332.3a1.5 1.5 0 1 0 3 0a1.5 1.5 0 1 0 -3 0M215.6 331.1a1.5 1.5 0 1 0 3 0a1.5 1.5 0 1 0 -3 0M224.5 332.9a1.5 1.5 0 1 0 3 0a1.5 1.5 0 1 0 -3 0M208.7 318.5a1.5 1.5 0 1 0 3 0a1.5 1.5 0 1 0 -3 0M212.7 327.0a1.5 1.5 0 1 0 3 0a1.5 1.5 0 1 0 -3 0M225.1 317.4a1.5 1.5 0 1 0 3 0a1.5 1.5 0 1 0 -3 0M229.2 327.7a1.5 1.5 0 1 0 3 0a1.5 1.5 0 1 0 -3 0M218.7 326.4a1.5 1.5 0 1 0 3 0a1.5 1.5 0 1 0 -3 0M235.4 324.2a1.5 1.5 0 1 0 3 0a1.5 1.5 0 1 0 -3 0M230.0 320.4a1.5 1.5 0 1 0 3 0a1.5 1.5 0 1 0 -3 0M208.5 330.9a1.5 1.5 0 1 0 3 0a1.5 1.5 0 1 0 -3 0M211.1 333.3a1.5 1.5 0 1 0 3 0a1.5 1.5 0 1 0 -3 0M218.3 327.0a1.5 1.5 0 1 0 3 0a1.5 1.5 0 1 0 -3 0M208.5 325.1a1.5 1.5 0 1 0 3 0a1.5 1.5 0 1 0 -3 0M224.5 333.4a1.5 1.5 0 1 0 3 0a1.5 1.5 0 1 0 -3 0M205.8 325.7a1.5 1.5 0 1 0 3 0a1.5 1.5 0 1 0 -3 0M208.2 334.7a1.5 1.5 0 1 0 3 0a1.5 1.5 0 1 0 -3 0M205.6 320.0a1.5 1.5 0 1 0 3 0a1.5 1.5 0 1 0 -3 0M202.7 327.2a1.5 1.5 0 1 0 3 0a1.5 1.5 0 1 0 -3 0M232.8 328.5a1.5 1.5 0 1 0 3 0a1.5 1.5 0 1 0 -3 0M226.9 332.6a1.5 1.5 0 1 0 3 0a1.5 1.5 0 1 0 -3 0M234.0 322.1a1.5 1.5 0 1 0 3 0a1.5 1.5 0 1 0 -3 0M207.2 334.5a1.5 1.5 0 1 0 3 0a1.5 1.5 0 1 0 -3 0M227.4 319.5a1.5 1.5 0 1 0 3 0a1.5 1.5 0 1 0 -3 0M224.4 321.1a1.5 1.5 0 1 0 3 0a1.5 1.5 0 1 0 -3 0M214.0 328.1a1.5 1.5 0 1 0 3 0a1.5 1.5 0 1 0 -3 0M206.6 318.5a1.5 1.5 0 1 0 3 0a1.5 1.5 0 1 0 -3 0M210.6 323.4a1.5 1.5 0 1 0 3 0a1.5 1.5 0 1 0 -3 0M234.9 320.9a1.5 1.5 0 1 0 3 0a1.5 1.5 0 1 0 -3 0M235.2 322.6a1.5 1.5 0 1 0 3 0a1.5 1.5 0 1 0 -3 0M213.3 332.1a1.5 1.5 0 1 0 3 0a1.5 1.5 0 1 0 -3 0M230.1 323.0a1.5 1.5 0 1 0 3 0a1.5 1.5 0 1 0 -3 0M202.3 328.5a1.5 1.5 0 1 0 3 0a1.5 1.5 0 1 0 -3 0M213.9 333.6a1.5 1.5 0 1 0 3 0a1.5 1.5 0 1 0 -3 0M207.4 324.6a1.5 1.5 0 1 0 3 0a1.5 1.5 0 1 0 -3 0M232.8 317.7a1.5 1.5 0 1 0 3 0a1.5 1.5 0 1 0 -3 0M215.3 334.5a1.5 1.5 0 1 0 3 0a1.5 1.5 0 1 0 -3 0M228.1 319.4a1.5 1.5 0 1 0 3 0a1.5 1.5 0 1 0 -3 0M201.8 323.6a1.5 1.5 0 1 0 3 0a1.5 1.5 0 1 0 -3 0M233.6 321.0a1.5 1.5 0 1 0 3 0a1.5 1.5 0 1 0 -3 0M227.4 330.8a1.5 1.5 0 1 0 3 0a1.5 1.5 0 1 0 -3 0M212.7 325.2a1.5 1.5 0 1 0 3 0a1.5 1.5 0 1 0 -3 0M235.0 326.6a1.5 1.5 0 1 0 3 0a1.5 1.5 0 1 0 -3 0M209.9 329.6a1.5 1.5 0 1 0 3 0a1.5 1.5 0 1 0 -3 0M211.9 324.1a1.5 1.5 0 1 0 3 0a1.5 1.5 0 1 0 -3 0M200.6 332.4a1.5 1.5 0 1 0 3 0a1.5 1.5 0 1 0 -3 0M233.5 325.5a1.5 1.5 0 1 0 3 0a1.5 1.5 0 1 0 -3 0M234.5 318.8a1.5 1.5 0 1 0 3 0a1.5 1.5 0 1 0 -3 0M208.9 325.9a1.5 1.5 0 1 0 3 0a1.5 1.5 0 1 0 -3 0M234.9 330.4a1.5 1.5 0 1 0 3 0a1.5 1.5 0 1 0 -3 0M214.4 328.4a1.5 1.5 0 1 0 3 0a1.5 1.5 0 1 0 -3 0M216.0 332.5a1.5 1.5 0 1 0 3 0a1.5 1.5 0 1 0 -3 0M233.9 320.3a1.5 1.5 0 1 0 3 0a1.5 1.5 0 1 0 -3 0M229.4 327.5a1.5 1.5 0 1 0 3 0a1.5 1.5 0 1 0 -3 0M230.1 327.6a1.5 1.5 0 1 0 3 0a1.5 1.5 0 1 0 -3 0M222.4 320.6a1.5 1.5 0 1 0 3 0a1.5 1.5 0 1 0 -3 0M212.0 325.4a1.5 1.5 0 1 0 3 0a1.5 1.5 0 1 0 -3 0M228.7 319.4a1.5 1.5 0 1 0 3 0a1.5 1.5 0 1 0 -3 0M207.6 331.2a1.5 1.5 0 1 0 3 0a1.5 1.5 0 1 0 -3 0M209.4 318.9a1.5 1.5 0 1 0 3 0a1.5 1.5 0 1 0 -3 0M201.7 329.8a1.5 1.5 0 1 0 3 0a1.5 1.5 0 1 0 -3 0M212.2 333.7a1.5 1.5 0 1 0 3 0a1.5 1.5 0 1 0 -3 0M232.3 329.8a1.5 1.5 0 1 0 3 0a1.5 1.5 0 1 0 -3 0M210.0 319.0a1.5 1.5 0 1 0 3 0a1.5 1.5 0 1 0 -3 0M204.0 328.1a1.5 1.5 0 1 0 3 0a1.5 1.5 0 1 0 -3 0M226.1 323.3a1.5 1.5 0 1 0 3 0a1.5 1.5 0 1 0 -3 0M208.9 324.9a1.5 1.5 0 1 0 3 0a1.5 1.5 0 1 0 -3 0M221.3 332.4a1.5 1.5 0 1 0 3 0a1.5 1.5 0 1 0 -3 0M226.4 333.5a1.5 1.5 0 1 0 3 0a1.5 1.5 0 1 0 -3 0M223.1 316.2a1.5 1.5 0 1 0 3 0a1.5 1.5 0 1 0 -3 0M230.1 321.8a1.5 1.5 0 1 0 3 0a1.5 1.5 0 1 0 -3 0M219.2 330.0a1.5 1.5 0 1 0 3 0a1.5 1.5 0 1 0 -3 0M226.0 318.4a1.5 1.5 0 1 0 3 0a1.5 1.5 0 1 0 -3 0M206.4 327.4a1.5 1.5 0 1 0 3 0a1.5 1.5 0 1 0 -3 0M202.6 354.5a1.5 1.5 0 1 0 3 0a1.5 1.5 0 1 0 -3 0M219.6 328.3a1.5 1.5 0 1 0 3 0a1.5 1.5 0 1 0 -3 0M212.3 345.5a1.5 1.5 0 1 0 3 0a1.5 1.5 0 1 0 -3 0M216.8 330.7a1.5 1.5 0 1 0 3 0a1.5 1.5 0 1 0 -3 0M228.8 329.0a1.5 1.5 0 1 0 3 0a1.5 1.5 0 1 0 -3 0M236.1 323.9a1.5 1.5 0 1 0 3 0a1.5 1.5 0 1 0 -3 0M215.5 340.6a1.5 1.5 0 1 0 3 0a1.5 1.5 0 1 0 -3 0M230.1 334.4a1.5 1.5 0 1 0 3 0a1.5 1.5 0 1 0 -3 0M198.1 339.6a1.5 1.5 0 1 0 3 0a1.5 1.5 0 1 0 -3 0M201.3 329.7a1.5 1.5 0 1 0 3 0a1.5 1.5 0 1 0 -3 0M235.4 330.1a1.5 1.5 0 1 0 3 0a1.5 1.5 0 1 0 -3 0M233.7 324.7a1.5 1.5 0 1 0 3 0a1.5 1.5 0 1 0 -3 0M231.1 325.2a1.5 1.5 0 1 0 3 0a1.5 1.5 0 1 0 -3 0M206.9 345.5a1.5 1.5 0 1 0 3 0a1.5 1.5 0 1 0 -3 0M234.3 319.9a1.5 1.5 0 1 0 3 0a1.5 1.5 0 1 0 -3 0M220.3 332.6a1.5 1.5 0 1 0 3 0a1.5 1.5 0 1 0 -3 0M205.2 332.9a1.5 1.5 0 1 0 3 0a1.5 1.5 0 1 0 -3 0M202.2 329.2a1.5 1.5 0 1 0 3 0a1.5 1.5 0 1 0 -3 0M206.7 339.6a1.5 1.5 0 1 0 3 0a1.5 1.5 0 1 0 -3 0M222.6 319.4a1.5 1.5 0 1 0 3 0a1.5 1.5 0 1 0 -3 0M197.0 342.0a1.5 1.5 0 1 0 3 0a1.5 1.5 0 1 0 -3 0M223.6 316.9a1.5 1.5 0 1 0 3 0a1.5 1.5 0 1 0 -3 0M209.0 324.2a1.5 1.5 0 1 0 3 0a1.5 1.5 0 1 0 -3 0M228.3 326.8a1.5 1.5 0 1 0 3 0a1.5 1.5 0 1 0 -3 0M199.0 330.8a1.5 1.5 0 1 0 3 0a1.5 1.5 0 1 0 -3 0M212.3 333.7a1.5 1.5 0 1 0 3 0a1.5 1.5 0 1 0 -3 0M222.1 317.9a1.5 1.5 0 1 0 3 0a1.5 1.5 0 1 0 -3 0M203.0 347.0a1.5 1.5 0 1 0 3 0a1.5 1.5 0 1 0 -3 0M212.9 327.4a1.5 1.5 0 1 0 3 0a1.5 1.5 0 1 0 -3 0M208.8 348.1a1.5 1.5 0 1 0 3 0a1.5 1.5 0 1 0 -3 0M209.0 335.7a1.5 1.5 0 1 0 3 0a1.5 1.5 0 1 0 -3 0M210.8 329.6a1.5 1.5 0 1 0 3 0a1.5 1.5 0 1 0 -3 0M231.1 336.1a1.5 1.5 0 1 0 3 0a1.5 1.5 0 1 0 -3 0M211.1 323.0a1.5 1.5 0 1 0 3 0a1.5 1.5 0 1 0 -3 0M225.6 318.3a1.5 1.5 0 1 0 3 0a1.5 1.5 0 1 0 -3 0M196.7 358.0a1.5 1.5 0 1 0 3 0a1.5 1.5 0 1 0 -3 0M213.5 341.1a1.5 1.5 0 1 0 3 0a1.5 1.5 0 1 0 -3 0M212.7 342.6a1.5 1.5 0 1 0 3 0a1.5 1.5 0 1 0 -3 0M214.9 327.8a1.5 1.5 0 1 0 3 0a1.5 1.5 0 1 0 -3 0M197.1 348.5a1.5 1.5 0 1 0 3 0a1.5 1.5 0 1 0 -3 0M222.1 336.8a1.5 1.5 0 1 0 3 0a1.5 1.5 0 1 0 -3 0M200.1 348.5a1.5 1.5 0 1 0 3 0a1.5 1.5 0 1 0 -3 0M211.3 331.8a1.5 1.5 0 1 0 3 0a1.5 1.5 0 1 0 -3 0M202.3 332.1a1.5 1.5 0 1 0 3 0a1.5 1.5 0 1 0 -3 0M217.3 341.1a1.5 1.5 0 1 0 3 0a1.5 1.5 0 1 0 -3 0M200.9 341.9a1.5 1.5 0 1 0 3 0a1.5 1.5 0 1 0 -3 0M228.7 335.7a1.5 1.5 0 1 0 3 0a1.5 1.5 0 1 0 -3 0M204.4 324.6a1.5 1.5 0 1 0 3 0a1.5 1.5 0 1 0 -3 0M234.2 336.5a1.5 1.5 0 1 0 3 0a1.5 1.5 0 1 0 -3 0M215.8 326.7a1.5 1.5 0 1 0 3 0a1.5 1.5 0 1 0 -3 0M233.5 325.0a1.5 1.5 0 1 0 3 0a1.5 1.5 0 1 0 -3 0M232.7 329.2a1.5 1.5 0 1 0 3 0a1.5 1.5 0 1 0 -3 0M229.5 318.8a1.5 1.5 0 1 0 3 0a1.5 1.5 0 1 0 -3 0M227.9 319.6a1.5 1.5 0 1 0 3 0a1.5 1.5 0 1 0 -3 0M212.7 341.6a1.5 1.5 0 1 0 3 0a1.5 1.5 0 1 0 -3 0M229.7 319.4a1.5 1.5 0 1 0 3 0a1.5 1.5 0 1 0 -3 0M205.2 334.0a1.5 1.5 0 1 0 3 0a1.5 1.5 0 1 0 -3 0M217.2 333.2a1.5 1.5 0 1 0 3 0a1.5 1.5 0 1 0 -3 0M201.4 331.5a1.5 1.5 0 1 0 3 0a1.5 1.5 0 1 0 -3 0M225.5 334.9a1.5 1.5 0 1 0 3 0a1.5 1.5 0 1 0 -3 0M198.1 349.2a1.5 1.5 0 1 0 3 0a1.5 1.5 0 1 0 -3 0M226.8 315.0a1.5 1.5 0 1 0 3 0a1.5 1.5 0 1 0 -3 0M230.0 318.2a1.5 1.5 0 1 0 3 0a1.5 1.5 0 1 0 -3 0M220.5 331.0a1.5 1.5 0 1 0 3 0a1.5 1.5 0 1 0 -3 0M221.6 323.9a1.5 1.5 0 1 0 3 0a1.5 1.5 0 1 0 -3 0M213.3 335.3a1.5 1.5 0 1 0 3 0a1.5 1.5 0 1 0 -3 0M213.5 337.3a1.5 1.5 0 1 0 3 0a1.5 1.5 0 1 0 -3 0M214.4 333.1a1.5 1.5 0 1 0 3 0a1.5 1.5 0 1 0 -3 0M197.4 350.8a1.5 1.5 0 1 0 3 0a1.5 1.5 0 1 0 -3 0M216.1 330.2a1.5 1.5 0 1 0 3 0a1.5 1.5 0 1 0 -3 0M227.0 331.9a1.5 1.5 0 1 0 3 0a1.5 1.5 0 1 0 -3 0M214.8 328.1a1.5 1.5 0 1 0 3 0a1.5 1.5 0 1 0 -3 0M215.4 327.3a1.5 1.5 0 1 0 3 0a1.5 1.5 0 1 0 -3 0M201.6 338.2a1.5 1.5 0 1 0 3 0a1.5 1.5 0 1 0 -3 0M200.2 341.5a1.5 1.5 0 1 0 3 0a1.5 1.5 0 1 0 -3 0M216.9 327.8a1.5 1.5 0 1 0 3 0a1.5 1.5 0 1 0 -3 0M222.0 318.0a1.5 1.5 0 1 0 3 0a1.5 1.5 0 1 0 -3 0M225.8 332.0a1.5 1.5 0 1 0 3 0a1.5 1.5 0 1 0 -3 0M217.0 328.1a1.5 1.5 0 1 0 3 0a1.5 1.5 0 1 0 -3 0M216.7 332.9a1.5 1.5 0 1 0 3 0a1.5 1.5 0 1 0 -3 0M234.5 320.7a1.5 1.5 0 1 0 3 0a1.5 1.5 0 1 0 -3 0M230.8 336.0a1.5 1.5 0 1 0 3 0a1.5 1.5 0 1 0 -3 0M225.8 332.9a1.5 1.5 0 1 0 3 0a1.5 1.5 0 1 0 -3 0M204.2 356.6a1.5 1.5 0 1 0 3 0a1.5 1.5 0 1 0 -3 0M216.2 342.6a1.5 1.5 0 1 0 3 0a1.5 1.5 0 1 0 -3 0M233.1 320.5a1.5 1.5 0 1 0 3 0a1.5 1.5 0 1 0 -3 0M228.0 335.1a1.5 1.5 0 1 0 3 0a1.5 1.5 0 1 0 -3 0M199.1 340.1a1.5 1.5 0 1 0 3 0a1.5 1.5 0 1 0 -3 0M226.7 317.7a1.5 1.5 0 1 0 3 0a1.5 1.5 0 1 0 -3 0M232.4 322.3a1.5 1.5 0 1 0 3 0a1.5 1.5 0 1 0 -3 0M229.1 318.3a1.5 1.5 0 1 0 3 0a1.5 1.5 0 1 0 -3 0M216.6 341.6a1.5 1.5 0 1 0 3 0a1.5 1.5 0 1 0 -3 0M204.8 329.3a1.5 1.5 0 1 0 3 0a1.5 1.5 0 1 0 -3 0M216.7 332.0a1.5 1.5 0 1 0 3 0a1.5 1.5 0 1 0 -3 0M198.0 335.9a1.5 1.5 0 1 0 3 0a1.5 1.5 0 1 0 -3 0M202.9 356.2a1.5 1.5 0 1 0 3 0a1.5 1.5 0 1 0 -3 0M223.7 335.2a1.5 1.5 0 1 0 3 0a1.5 1.5 0 1 0 -3 0M203.2 350.2a1.5 1.5 0 1 0 3 0a1.5 1.5 0 1 0 -3 0M201.1 343.0a1.5 1.5 0 1 0 3 0a1.5 1.5 0 1 0 -3 0M222.0 324.4a1.5 1.5 0 1 0 3 0a1.5 1.5 0 1 0 -3 0M231.4 327.4a1.5 1.5 0 1 0 3 0a1.5 1.5 0 1 0 -3 0M219.7 338.4a1.5 1.5 0 1 0 3 0a1.5 1.5 0 1 0 -3 0M200.7 361.4a1.5 1.5 0 1 0 3 0a1.5 1.5 0 1 0 -3 0M221.7 325.6a1.5 1.5 0 1 0 3 0a1.5 1.5 0 1 0 -3 0M228.4 320.7a1.5 1.5 0 1 0 3 0a1.5 1.5 0 1 0 -3 0M236.1 330.8a1.5 1.5 0 1 0 3 0a1.5 1.5 0 1 0 -3 0M210.9 339.8a1.5 1.5 0 1 0 3 0a1.5 1.5 0 1 0 -3 0M214.2 327.1a1.5 1.5 0 1 0 3 0a1.5 1.5 0 1 0 -3 0M226.2 315.0a1.5 1.5 0 1 0 3 0a1.5 1.5 0 1 0 -3 0M229.3 320.7a1.5 1.5 0 1 0 3 0a1.5 1.5 0 1 0 -3 0M222.1 338.6a1.5 1.5 0 1 0 3 0a1.5 1.5 0 1 0 -3 0M219.9 334.0a1.5 1.5 0 1 0 3 0a1.5 1.5 0 1 0 -3 0M209.0 317.9a1.5 1.5 0 1 0 3 0a1.5 1.5 0 1 0 -3 0M233.9 375.8a1.5 1.5 0 1 0 3 0a1.5 1.5 0 1 0 -3 0M240.3 379.2a1.5 1.5 0 1 0 3 0a1.5 1.5 0 1 0 -3 0M239.1 384.7a1.5 1.5 0 1 0 3 0a1.5 1.5 0 1 0 -3 0M235.0 376.7a1.5 1.5 0 1 0 3 0a1.5 1.5 0 1 0 -3 0M240.7 374.3a1.5 1.5 0 1 0 3 0a1.5 1.5 0 1 0 -3 0M233.5 378.3a1.5 1.5 0 1 0 3 0a1.5 1.5 0 1 0 -3 0M234.7 378.3a1.5 1.5 0 1 0 3 0a1.5 1.5 0 1 0 -3 0M236.0 381.0a1.5 1.5 0 1 0 3 0a1.5 1.5 0 1 0 -3 0M240.0 376.5a1.5 1.5 0 1 0 3 0a1.5 1.5 0 1 0 -3 0M240.4 379.7a1.5 1.5 0 1 0 3 0a1.5 1.5 0 1 0 -3 0M235.0 385.2a1.5 1.5 0 1 0 3 0a1.5 1.5 0 1 0 -3 0M236.2 375.8a1.5 1.5 0 1 0 3 0a1.5 1.5 0 1 0 -3 0M234.6 381.7a1.5 1.5 0 1 0 3 0a1.5 1.5 0 1 0 -3 0M243.1 383.4a1.5 1.5 0 1 0 3 0a1.5 1.5 0 1 0 -3 0M237.9 377.2a1.5 1.5 0 1 0 3 0a1.5 1.5 0 1 0 -3 0M233.6 381.7a1.5 1.5 0 1 0 3 0a1.5 1.5 0 1 0 -3 0M239.7 378.2a1.5 1.5 0 1 0 3 0a1.5 1.5 0 1 0 -3 0M240.6 379.3a1.5 1.5 0 1 0 3 0a1.5 1.5 0 1 0 -3 0M243.8 382.8a1.5 1.5 0 1 0 3 0a1.5 1.5 0 1 0 -3 0M236.2 384.8a1.5 1.5 0 1 0 3 0a1.5 1.5 0 1 0 -3 0M234.0 380.4a1.5 1.5 0 1 0 3 0a1.5 1.5 0 1 0 -3 0M238.0 376.9a1.5 1.5 0 1 0 3 0a1.5 1.5 0 1 0 -3 0M234.1 383.3a1.5 1.5 0 1 0 3 0a1.5 1.5 0 1 0 -3 0M233.6 380.6a1.5 1.5 0 1 0 3 0a1.5 1.5 0 1 0 -3 0M243.9 375.7a1.5 1.5 0 1 0 3 0a1.5 1.5 0 1 0 -3 0M235.7 381.3a1.5 1.5 0 1 0 3 0a1.5 1.5 0 1 0 -3 0M239.1 381.7a1.5 1.5 0 1 0 3 0a1.5 1.5 0 1 0 -3 0M242.4 376.1a1.5 1.5 0 1 0 3 0a1.5 1.5 0 1 0 -3 0M236.9 377.6a1.5 1.5 0 1 0 3 0a1.5 1.5 0 1 0 -3 0M234.0 384.7a1.5 1.5 0 1 0 3 0a1.5 1.5 0 1 0 -3 0M242.1 382.6a1.5 1.5 0 1 0 3 0a1.5 1.5 0 1 0 -3 0M233.6 384.1a1.5 1.5 0 1 0 3 0a1.5 1.5 0 1 0 -3 0M241.7 379.6a1.5 1.5 0 1 0 3 0a1.5 1.5 0 1 0 -3 0M241.7 379.4a1.5 1.5 0 1 0 3 0a1.5 1.5 0 1 0 -3 0M236.0 375.3a1.5 1.5 0 1 0 3 0a1.5 1.5 0 1 0 -3 0M236.1 374.5a1.5 1.5 0 1 0 3 0a1.5 1.5 0 1 0 -3 0M237.2 383.0a1.5 1.5 0 1 0 3 0a1.5 1.5 0 1 0 -3 0M241.1 384.1a1.5 1.5 0 1 0 3 0a1.5 1.5 0 1 0 -3 0M241.3 377.2a1.5 1.5 0 1 0 3 0a1.5 1.5 0 1 0 -3 0M239.6 379.2a1.5 1.5 0 1 0 3 0a1.5 1.5 0 1 0 -3 0M242.2 380.3a1.5 1.5 0 1 0 3 0a1.5 1.5 0 1 0 -3 0M236.4 381.7a1.5 1.5 0 1 0 3 0a1.5 1.5 0 1 0 -3 0M244.1 376.6a1.5 1.5 0 1 0 3 0a1.5 1.5 0 1 0 -3 0M243.2 374.2a1.5 1.5 0 1 0 3 0a1.5 1.5 0 1 0 -3 0M236.4 376.8a1.5 1.5 0 1 0 3 0a1.5 1.5 0 1 0 -3 0M241.7 385.3a1.5 1.5 0 1 0 3 0a1.5 1.5 0 1 0 -3 0M241.7 377.9a1.5 1.5 0 1 0 3 0a1.5 1.5 0 1 0 -3 0M243.2 377.9a1.5 1.5 0 1 0 3 0a1.5 1.5 0 1 0 -3 0M236.1 384.9a1.5 1.5 0 1 0 3 0a1.5 1.5 0 1 0 -3 0M240.4 382.3a1.5 1.5 0 1 0 3 0a1.5 1.5 0 1 0 -3 0M240.8 385.7a1.5 1.5 0 1 0 3 0a1.5 1.5 0 1 0 -3 0M238.7 384.1a1.5 1.5 0 1 0 3 0a1.5 1.5 0 1 0 -3 0M241.2 384.3a1.5 1.5 0 1 0 3 0a1.5 1.5 0 1 0 -3 0M238.3 382.7a1.5 1.5 0 1 0 3 0a1.5 1.5 0 1 0 -3 0M239.8 377.7a1.5 1.5 0 1 0 3 0a1.5 1.5 0 1 0 -3 0M247.0 372.7a1.5 1.5 0 1 0 3 0a1.5 1.5 0 1 0 -3 0M245.4 376.8a1.5 1.5 0 1 0 3 0a1.5 1.5 0 1 0 -3 0M246.2 364.4a1.5 1.5 0 1 0 3 0a1.5 1.5 0 1 0 -3 0M245.8 377.0a1.5 1.5 0 1 0 3 0a1.5 1.5 0 1 0 -3 0M248.6 366.0a1.5 1.5 0 1 0 3 0a1.5 1.5 0 1 0 -3 0M244.8 364.6a1.5 1.5 0 1 0 3 0a1.5 1.5 0 1 0 -3 0M252.8 372.9a1.5 1.5 0 1 0 3 0a1.5 1.5 0 1 0 -3 0M252.9 374.3a1.5 1.5 0 1 0 3 0a1.5 1.5 0 1 0 -3 0M245.3 372.3a1.5 1.5 0 1 0 3 0a1.5 1.5 0 1 0 -3 0M248.9 375.4a1.5 1.5 0 1 0 3 0a1.5 1.5 0 1 0 -3 0M254.3 376.5a1.5 1.5 0 1 0 3 0a1.5 1.5 0 1 0 -3 0M245.3 376.1a1.5 1.5 0 1 0 3 0a1.5 1.5 0 1 0 -3 0M255.5 377.2a1.5 1.5 0 1 0 3 0a1.5 1.5 0 1 0 -3 0M245.8 366.9a1.5 1.5 0 1 0 3 0a1.5 1.5 0 1 0 -3 0M245.8 364.5a1.5 1.5 0 1 0 3 0a1.5 1.5 0 1 0 -3 0M254.7 375.4a1.5 1.5 0 1 0 3 0a1.5 1.5 0 1 0 -3 0M252.1 375.6a1.5 1.5 0 1 0 3 0a1.5 1.5 0 1 0 -3 0M252.1 368.0a1.5 1.5 0 1 0 3 0a1.5 1.5 0 1 0 -3 0M245.7 365.4a1.5 1.5 0 1 0 3 0a1.5 1.5 0 1 0 -3 0M253.6 366.9a1.5 1.5 0 1 0 3 0a1.5 1.5 0 1 0 -3 0M248.3 369.9a1.5 1.5 0 1 0 3 0a1.5 1.5 0 1 0 -3 0M244.8 367.6a1.5 1.5 0 1 0 3 0a1.5 1.5 0 1 0 -3 0M256.8 381.6a1.5 1.5 0 1 0 3 0a1.5 1.5 0 1 0 -3 0M257.4 368.6a1.5 1.5 0 1 0 3 0a1.5 1.5 0 1 0 -3 0M262.2 374.6a1.5 1.5 0 1 0 3 0a1.5 1.5 0 1 0 -3 0M261.3 378.4a1.5 1.5 0 1 0 3 0a1.5 1.5 0 1 0 -3 0M254.7 371.6a1.5 1.5 0 1 0 3 0a1.5 1.5 0 1 0 -3 0M258.0 383.5a1.5 1.5 0 1 0 3 0a1.5 1.5 0 1 0 -3 0M257.3 381.3a1.5 1.5 0 1 0 3 0a1.5 1.5 0 1 0 -3 0M258.8 365.1a1.5 1.5 0 1 0 3 0a1.5 1.5 0 1 0 -3 0M261.4 361.0a1.5 1.5 0 1 0 3 0a1.5 1.5 0 1 0 -3 0M261.1 363.6a1.5 1.5 0 1 0 3 0a1.5 1.5 0 1 0 -3 0M254.5 364.7a1.5 1.5 0 1 0 3 0a1.5 1.5 0 1 0 -3 0M260.6 390.3a1.5 1.5 0 1 0 3 0a1.5 1.5 0 1 0 -3 0M254.5 374.2a1.5 1.5 0 1 0 3 0a1.5 1.5 0 1 0 -3 0M258.4 384.3a1.5 1.5 0 1 0 3 0a1.5 1.5 0 1 0 -3 0M256.0 374.3a1.5 1.5 0 1 0 3 0a1.5 1.5 0 1 0 -3 0M257.3 385.5a1.5 1.5 0 1 0 3 0a1.5 1.5 0 1 0 -3 0M256.6 389.1a1.5 1.5 0 1 0 3 0a1.5 1.5 0 1 0 -3 0M256.8 365.1a1.5 1.5 0 1 0 3 0a1.5 1.5 0 1 0 -3 0M260.1 374.4a1.5 1.5 0 1 0 3 0a1.5 1.5 0 1 0 -3 0M255.4 379.0a1.5 1.5 0 1 0 3 0a1.5 1.5 0 1 0 -3 0M255.1 384.0a1.5 1.5 0 1 0 3 0a1.5 1.5 0 1 0 -3 0M260.1 384.0a1.5 1.5 0 1 0 3 0a1.5 1.5 0 1 0 -3 0M259.5 369.7a1.5 1.5 0 1 0 3 0a1.5 1.5 0 1 0 -3 0M257.7 371.0a1.5 1.5 0 1 0 3 0a1.5 1.5 0 1 0 -3 0M261.6 360.8a1.5 1.5 0 1 0 3 0a1.5 1.5 0 1 0 -3 0M261.6 358.8a1.5 1.5 0 1 0 3 0a1.5 1.5 0 1 0 -3 0M266.6 356.9a1.5 1.5 0 1 0 3 0a1.5 1.5 0 1 0 -3 0M280.5 360.5a1.5 1.5 0 1 0 3 0a1.5 1.5 0 1 0 -3 0M270.1 366.3a1.5 1.5 0 1 0 3 0a1.5 1.5 0 1 0 -3 0M267.2 359.9a1.5 1.5 0 1 0 3 0a1.5 1.5 0 1 0 -3 0M273.1 364.3a1.5 1.5 0 1 0 3 0a1.5 1.5 0 1 0 -3 0M277.6 362.7a1.5 1.5 0 1 0 3 0a1.5 1.5 0 1 0 -3 0M269.5 357.9a1.5 1.5 0 1 0 3 0a1.5 1.5 0 1 0 -3 0M265.6 365.6a1.5 1.5 0 1 0 3 0a1.5 1.5 0 1 0 -3 0M275.7 364.1a1.5 1.5 0 1 0 3 0a1.5 1.5 0 1 0 -3 0M265.9 359.6a1.5 1.5 0 1 0 3 0a1.5 1.5 0 1 0 -3 0M278.0 361.7a1.5 1.5 0 1 0 3 0a1.5 1.5 0 1 0 -3 0M265.0 359.9a1.5 1.5 0 1 0 3 0a1.5 1.5 0 1 0 -3 0M280.2 356.6a1.5 1.5 0 1 0 3 0a1.5 1.5 0 1 0 -3 0M266.3 357.5a1.5 1.5 0 1 0 3 0a1.5 1.5 0 1 0 -3 0M276.6 365.7a1.5 1.5 0 1 0 3 0a1.5 1.5 0 1 0 -3 0M265.6 355.3a1.5 1.5 0 1 0 3 0a1.5 1.5 0 1 0 -3 0M267.5 357.9a1.5 1.5 0 1 0 3 0a1.5 1.5 0 1 0 -3 0M272.9 355.4a1.5 1.5 0 1 0 3 0a1.5 1.5 0 1 0 -3 0M269.1 355.8a1.5 1.5 0 1 0 3 0a1.5 1.5 0 1 0 -3 0M282.0 363.9a1.5 1.5 0 1 0 3 0a1.5 1.5 0 1 0 -3 0M264.5 367.4a1.5 1.5 0 1 0 3 0a1.5 1.5 0 1 0 -3 0M264.5 358.8a1.5 1.5 0 1 0 3 0a1.5 1.5 0 1 0 -3 0M282.2 364.9a1.5 1.5 0 1 0 3 0a1.5 1.5 0 1 0 -3 0M277.2 359.5a1.5 1.5 0 1 0 3 0a1.5 1.5 0 1 0 -3 0M273.2 370.5a1.5 1.5 0 1 0 3 0a1.5 1.5 0 1 0 -3 0M272.0 367.4a1.5 1.5 0 1 0 3 0a1.5 1.5 0 1 0 -3 0M275.9 366.2a1.5 1.5 0 1 0 3 0a1.5 1.5 0 1 0 -3 0M276.1 371.5a1.5 1.5 0 1 0 3 0a1.5 1.5 0 1 0 -3 0M280.2 369.5a1.5 1.5 0 1 0 3 0a1.5 1.5 0 1 0 -3 0M232.6 339.9a1.5 1.5 0 1 0 3 0a1.5 1.5 0 1 0 -3 0M232.1 372.8a1.5 1.5 0 1 0 3 0a1.5 1.5 0 1 0 -3 0M233.7 340.6a1.5 1.5 0 1 0 3 0a1.5 1.5 0 1 0 -3 0M234.2 373.0a1.5 1.5 0 1 0 3 0a1.5 1.5 0 1 0 -3 0M235.2 340.6a1.5 1.5 0 1 0 3 0a1.5 1.5 0 1 0 -3 0M235.0 373.1a1.5 1.5 0 1 0 3 0a1.5 1.5 0 1 0 -3 0M236.6 341.0a1.5 1.5 0 1 0 3 0a1.5 1.5 0 1 0 -3 0M236.7 375.0a1.5 1.5 0 1 0 3 0a1.5 1.5 0 1 0 -3 0M238.1 339.9a1.5 1.5 0 1 0 3 0a1.5 1.5 0 1 0 -3 0M237.8 374.4a1.5 1.5 0 1 0 3 0a1.5 1.5 0 1 0 -3 0M238.8 339.5a1.5 1.5 0 1 0 3 0a1.5 1.5 0 1 0 -3 0M238.6 374.0a1.5 1.5 0 1 0 3 0a1.5 1.5 0 1 0 -3 0M240.6 340.2a1.5 1.5 0 1 0 3 0a1.5 1.5 0 1 0 -3 0M240.4 373.0a1.5 1.5 0 1 0 3 0a1.5 1.5 0 1 0 -3 0M241.5 340.0a1.5 1.5 0 1 0 3 0a1.5 1.5 0 1 0 -3 0M241.7 372.7a1.5 1.5 0 1 0 3 0a1.5 1.5 0 1 0 -3 0M243.1 341.4a1.5 1.5 0 1 0 3 0a1.5 1.5 0 1 0 -3 0M242.6 372.6a1.5 1.5 0 1 0 3 0a1.5 1.5 0 1 0 -3 0M244.5 339.4a1.5 1.5 0 1 0 3 0a1.5 1.5 0 1 0 -3 0M244.2 372.5a1.5 1.5 0 1 0 3 0a1.5 1.5 0 1 0 -3 0M245.0 339.1a1.5 1.5 0 1 0 3 0a1.5 1.5 0 1 0 -3 0M245.2 371.0a1.5 1.5 0 1 0 3 0a1.5 1.5 0 1 0 -3 0M247.2 338.4a1.5 1.5 0 1 0 3 0a1.5 1.5 0 1 0 -3 0M246.4 368.9a1.5 1.5 0 1 0 3 0a1.5 1.5 0 1 0 -3 0M248.1 338.3a1.5 1.5 0 1 0 3 0a1.5 1.5 0 1 0 -3 0M248.1 365.9a1.5 1.5 0 1 0 3 0a1.5 1.5 0 1 0 -3 0M249.7 337.1a1.5 1.5 0 1 0 3 0a1.5 1.5 0 1 0 -3 0M249.3 364.8a1.5 1.5 0 1 0 3 0a1.5 1.5 0 1 0 -3 0M250.4 337.3a1.5 1.5 0 1 0 3 0a1.5 1.5 0 1 0 -3 0M250.6 363.2a1.5 1.5 0 1 0 3 0a1.5 1.5 0 1 0 -3 0M251.6 340.0a1.5 1.5 0 1 0 3 0a1.5 1.5 0 1 0 -3 0M251.9 361.3a1.5 1.5 0 1 0 3 0a1.5 1.5 0 1 0 -3 0M253.1 340.0a1.5 1.5 0 1 0 3 0a1.5 1.5 0 1 0 -3 0M252.8 361.5a1.5 1.5 0 1 0 3 0a1.5 1.5 0 1 0 -3 0M254.5 342.1a1.5 1.5 0 1 0 3 0a1.5 1.5 0 1 0 -3 0M254.5 359.8a1.5 1.5 0 1 0 3 0a1.5 1.5 0 1 0 -3 0M255.6 343.5a1.5 1.5 0 1 0 3 0a1.5 1.5 0 1 0 -3 0M256.3 359.2a1.5 1.5 0 1 0 3 0a1.5 1.5 0 1 0 -3 0M256.9 344.5a1.5 1.5 0 1 0 3 0a1.5 1.5 0 1 0 -3 0M257.1 357.4a1.5 1.5 0 1 0 3 0a1.5 1.5 0 1 0 -3 0M258.1 344.7a1.5 1.5 0 1 0 3 0a1.5 1.5 0 1 0 -3 0M258.8 357.8a1.5 1.5 0 1 0 3 0a1.5 1.5 0 1 0 -3 0M259.8 344.5a1.5 1.5 0 1 0 3 0a1.5 1.5 0 1 0 -3 0M259.5 358.1a1.5 1.5 0 1 0 3 0a1.5 1.5 0 1 0 -3 0M261.0 345.5a1.5 1.5 0 1 0 3 0a1.5 1.5 0 1 0 -3 0M261.4 356.7a1.5 1.5 0 1 0 3 0a1.5 1.5 0 1 0 -3 0M262.4 345.9a1.5 1.5 0 1 0 3 0a1.5 1.5 0 1 0 -3 0M262.4 353.6a1.5 1.5 0 1 0 3 0a1.5 1.5 0 1 0 -3 0M264.0 347.1a1.5 1.5 0 1 0 3 0a1.5 1.5 0 1 0 -3 0M264.1 352.8a1.5 1.5 0 1 0 3 0a1.5 1.5 0 1 0 -3 0M264.9 346.4a1.5 1.5 0 1 0 3 0a1.5 1.5 0 1 0 -3 0M264.9 351.7a1.5 1.5 0 1 0 3 0a1.5 1.5 0 1 0 -3 0M265.8 347.1a1.5 1.5 0 1 0 3 0a1.5 1.5 0 1 0 -3 0M266.1 351.0a1.5 1.5 0 1 0 3 0a1.5 1.5 0 1 0 -3 0M267.4 344.2a1.5 1.5 0 1 0 3 0a1.5 1.5 0 1 0 -3 0M267.5 351.9a1.5 1.5 0 1 0 3 0a1.5 1.5 0 1 0 -3 0M269.1 342.0a1.5 1.5 0 1 0 3 0a1.5 1.5 0 1 0 -3 0M269.3 352.4a1.5 1.5 0 1 0 3 0a1.5 1.5 0 1 0 -3 0M269.8 342.8a1.5 1.5 0 1 0 3 0a1.5 1.5 0 1 0 -3 0M270.6 352.2a1.5 1.5 0 1 0 3 0a1.5 1.5 0 1 0 -3 0M271.1 342.5a1.5 1.5 0 1 0 3 0a1.5 1.5 0 1 0 -3 0M271.6 350.2a1.5 1.5 0 1 0 3 0a1.5 1.5 0 1 0 -3 0M272.3 342.4a1.5 1.5 0 1 0 3 0a1.5 1.5 0 1 0 -3 0M273.0 350.9a1.5 1.5 0 1 0 3 0a1.5 1.5 0 1 0 -3 0M273.7 340.4a1.5 1.5 0 1 0 3 0a1.5 1.5 0 1 0 -3 0M273.8 352.2a1.5 1.5 0 1 0 3 0a1.5 1.5 0 1 0 -3 0M275.2 341.0a1.5 1.5 0 1 0 3 0a1.5 1.5 0 1 0 -3 0M275.8 352.3a1.5 1.5 0 1 0 3 0a1.5 1.5 0 1 0 -3 0M276.4 343.2a1.5 1.5 0 1 0 3 0a1.5 1.5 0 1 0 -3 0M276.8 352.2a1.5 1.5 0 1 0 3 0a1.5 1.5 0 1 0 -3 0M278.2 341.3a1.5 1.5 0 1 0 3 0a1.5 1.5 0 1 0 -3 0M278.3 352.4a1.5 1.5 0 1 0 3 0a1.5 1.5 0 1 0 -3 0M279.0 339.4a1.5 1.5 0 1 0 3 0a1.5 1.5 0 1 0 -3 0M279.3 351.9a1.5 1.5 0 1 0 3 0a1.5 1.5 0 1 0 -3 0M280.5 338.9a1.5 1.5 0 1 0 3 0a1.5 1.5 0 1 0 -3 0M280.7 350.4a1.5 1.5 0 1 0 3 0a1.5 1.5 0 1 0 -3 0M281.6 336.0a1.5 1.5 0 1 0 3 0a1.5 1.5 0 1 0 -3 0M281.9 349.5a1.5 1.5 0 1 0 3 0a1.5 1.5 0 1 0 -3 0M283.2 335.4a1.5 1.5 0 1 0 3 0a1.5 1.5 0 1 0 -3 0M283.2 350.0a1.5 1.5 0 1 0 3 0a1.5 1.5 0 1 0 -3 0M284.5 336.9a1.5 1.5 0 1 0 3 0a1.5 1.5 0 1 0 -3 0M284.0 349.9a1.5 1.5 0 1 0 3 0a1.5 1.5 0 1 0 -3 0M285.8 335.8a1.5 1.5 0 1 0 3 0a1.5 1.5 0 1 0 -3 0M286.0 348.9a1.5 1.5 0 1 0 3 0a1.5 1.5 0 1 0 -3 0M287.0 335.4a1.5 1.5 0 1 0 3 0a1.5 1.5 0 1 0 -3 0M287.6 345.8a1.5 1.5 0 1 0 3 0a1.5 1.5 0 1 0 -3 0M288.5 336.1a1.5 1.5 0 1 0 3 0a1.5 1.5 0 1 0 -3 0M287.9 345.9a1.5 1.5 0 1 0 3 0a1.5 1.5 0 1 0 -3 0M289.9 337.0a1.5 1.5 0 1 0 3 0a1.5 1.5 0 1 0 -3 0M289.5 345.6a1.5 1.5 0 1 0 3 0a1.5 1.5 0 1 0 -3 0M291.0 335.7a1.5 1.5 0 1 0 3 0a1.5 1.5 0 1 0 -3 0M291.4 342.2a1.5 1.5 0 1 0 3 0a1.5 1.5 0 1 0 -3 0M292.5 335.4a1.5 1.5 0 1 0 3 0a1.5 1.5 0 1 0 -3 0M292.1 344.0a1.5 1.5 0 1 0 3 0a1.5 1.5 0 1 0 -3 0M293.5 334.4a1.5 1.5 0 1 0 3 0a1.5 1.5 0 1 0 -3 0M293.6 343.4a1.5 1.5 0 1 0 3 0a1.5 1.5 0 1 0 -3 0M294.6 333.6a1.5 1.5 0 1 0 3 0a1.5 1.5 0 1 0 -3 0M294.8 342.6a1.5 1.5 0 1 0 3 0a1.5 1.5 0 1 0 -3 0M296.5 332.6a1.5 1.5 0 1 0 3 0a1.5 1.5 0 1 0 -3 0M296.5 342.2a1.5 1.5 0 1 0 3 0a1.5 1.5 0 1 0 -3 0M297.5 331.9a1.5 1.5 0 1 0 3 0a1.5 1.5 0 1 0 -3 0M297.5 343.7a1.5 1.5 0 1 0 3 0a1.5 1.5 0 1 0 -3 0M299.0 332.8a1.5 1.5 0 1 0 3 0a1.5 1.5 0 1 0 -3 0M298.6 341.9a1.5 1.5 0 1 0 3 0a1.5 1.5 0 1 0 -3 0M299.9 332.2a1.5 1.5 0 1 0 3 0a1.5 1.5 0 1 0 -3 0M300.2 342.8a1.5 1.5 0 1 0 3 0a1.5 1.5 0 1 0 -3 0M300.9 332.6a1.5 1.5 0 1 0 3 0a1.5 1.5 0 1 0 -3 0M301.8 341.9a1.5 1.5 0 1 0 3 0a1.5 1.5 0 1 0 -3 0M302.2 331.5a1.5 1.5 0 1 0 3 0a1.5 1.5 0 1 0 -3 0M302.2 340.6a1.5 1.5 0 1 0 3 0a1.5 1.5 0 1 0 -3 0M304.4 332.3a1.5 1.5 0 1 0 3 0a1.5 1.5 0 1 0 -3 0M304.2 341.9a1.5 1.5 0 1 0 3 0a1.5 1.5 0 1 0 -3 0M305.7 332.3a1.5 1.5 0 1 0 3 0a1.5 1.5 0 1 0 -3 0M305.4 341.1a1.5 1.5 0 1 0 3 0a1.5 1.5 0 1 0 -3 0M306.8 332.4a1.5 1.5 0 1 0 3 0a1.5 1.5 0 1 0 -3 0M306.8 339.7a1.5 1.5 0 1 0 3 0a1.5 1.5 0 1 0 -3 0M308.1 334.3a1.5 1.5 0 1 0 3 0a1.5 1.5 0 1 0 -3 0M308.2 338.8a1.5 1.5 0 1 0 3 0a1.5 1.5 0 1 0 -3 0M308.9 334.5a1.5 1.5 0 1 0 3 0a1.5 1.5 0 1 0 -3 0M309.5 340.6a1.5 1.5 0 1 0 3 0a1.5 1.5 0 1 0 -3 0M310.7 335.7a1.5 1.5 0 1 0 3 0a1.5 1.5 0 1 0 -3 0M310.8 340.2a1.5 1.5 0 1 0 3 0a1.5 1.5 0 1 0 -3 0M311.9 335.7a1.5 1.5 0 1 0 3 0a1.5 1.5 0 1 0 -3 0M311.6 339.3a1.5 1.5 0 1 0 3 0a1.5 1.5 0 1 0 -3 0M312.9 336.3a1.5 1.5 0 1 0 3 0a1.5 1.5 0 1 0 -3 0M313.2 340.5a1.5 1.5 0 1 0 3 0a1.5 1.5 0 1 0 -3 0M314.0 336.7a1.5 1.5 0 1 0 3 0a1.5 1.5 0 1 0 -3 0M313.9 338.1a1.5 1.5 0 1 0 3 0a1.5 1.5 0 1 0 -3 0M316.0 336.7a1.5 1.5 0 1 0 3 0a1.5 1.5 0 1 0 -3 0M316.1 338.7a1.5 1.5 0 1 0 3 0a1.5 1.5 0 1 0 -3 0M316.5 336.2a1.5 1.5 0 1 0 3 0a1.5 1.5 0 1 0 -3 0M317.1 339.7a1.5 1.5 0 1 0 3 0a1.5 1.5 0 1 0 -3 0M310.1 343.9a1.5 1.5 0 1 0 3 0a1.5 1.5 0 1 0 -3 0M297.6 345.3a1.5 1.5 0 1 0 3 0a1.5 1.5 0 1 0 -3 0M302.7 344.7a1.5 1.5 0 1 0 3 0a1.5 1.5 0 1 0 -3 0M291.8 345.7a1.5 1.5 0 1 0 3 0a1.5 1.5 0 1 0 -3 0M288.6 351.3a1.5 1.5 0 1 0 3 0a1.5 1.5 0 1 0 -3 0M291.2 356.0a1.5 1.5 0 1 0 3 0a1.5 1.5 0 1 0 -3 0M290.4 352.2a1.5 1.5 0 1 0 3 0a1.5 1.5 0 1 0 -3 0M291.3 345.8a1.5 1.5 0 1 0 3 0a1.5 1.5 0 1 0 -3 0M236.5 396.0a1.5 1.5 0 1 0 3 0a1.5 1.5 0 1 0 -3 0M235.5 392.0a1.5 1.5 0 1 0 3 0a1.5 1.5 0 1 0 -3 0M234.5 389.0a1.5 1.5 0 1 0 3 0a1.5 1.5 0 1 0 -3 0M238.5 390.0a1.5 1.5 0 1 0 3 0a1.5 1.5 0 1 0 -3 0M242.5 389.0a1.5 1.5 0 1 0 3 0a1.5 1.5 0 1 0 -3 0M253.5 389.0a1.5 1.5 0 1 0 3 0a1.5 1.5 0 1 0 -3 0M258.5 388.0a1.5 1.5 0 1 0 3 0a1.5 1.5 0 1 0 -3 0M253.5 397.0a1.5 1.5 0 1 0 3 0a1.5 1.5 0 1 0 -3 0M268.5 397.0a1.5 1.5 0 1 0 3 0a1.5 1.5 0 1 0 -3 0M296.5 400.0a1.5 1.5 0 1 0 3 0a1.5 1.5 0 1 0 -3 0M289.5 362.0a1.5 1.5 0 1 0 3 0a1.5 1.5 0 1 0 -3 0M287.5 368.0a1.5 1.5 0 1 0 3 0a1.5 1.5 0 1 0 -3 0M296.5 358.0a1.5 1.5 0 1 0 3 0a1.5 1.5 0 1 0 -3 0M299.5 353.0a1.5 1.5 0 1 0 3 0a1.5 1.5 0 1 0 -3 0M271.5 370.0a1.5 1.5 0 1 0 3 0a1.5 1.5 0 1 0 -3 0M263.5 376.0a1.5 1.5 0 1 0 3 0a1.5 1.5 0 1 0 -3 0M256.5 383.0a1.5 1.5 0 1 0 3 0a1.5 1.5 0 1 0 -3 0M259.5 380.0a1.5 1.5 0 1 0 3 0a1.5 1.5 0 1 0 -3 0M250.5 380.0a1.5 1.5 0 1 0 3 0a1.5 1.5 0 1 0 -3 0M248.5 384.0a1.5 1.5 0 1 0 3 0a1.5 1.5 0 1 0 -3 0M254.5 386.0a1.5 1.5 0 1 0 3 0a1.5 1.5 0 1 0 -3 0M261.5 372.0a1.5 1.5 0 1 0 3 0a1.5 1.5 0 1 0 -3 0M266.5 372.0a1.5 1.5 0 1 0 3 0a1.5 1.5 0 1 0 -3 0M274.5 368.0a1.5 1.5 0 1 0 3 0a1.5 1.5 0 1 0 -3 0M278.5 362.0a1.5 1.5 0 1 0 3 0a1.5 1.5 0 1 0 -3 0M283.5 358.0a1.5 1.5 0 1 0 3 0a1.5 1.5 0 1 0 -3 0M292.5 356.0a1.5 1.5 0 1 0 3 0a1.5 1.5 0 1 0 -3 0M294.5 360.0a1.5 1.5 0 1 0 3 0a1.5 1.5 0 1 0 -3 0M233.1 318.3a1.5 1.5 0 1 0 3 0a1.5 1.5 0 1 0 -3 0M233.3 316.9a1.5 1.5 0 1 0 3 0a1.5 1.5 0 1 0 -3 0M225.1 332.1a1.5 1.5 0 1 0 3 0a1.5 1.5 0 1 0 -3 0M233.1 334.2a1.5 1.5 0 1 0 3 0a1.5 1.5 0 1 0 -3 0M233.3 314.2a1.5 1.5 0 1 0 3 0a1.5 1.5 0 1 0 -3 0M232.0 330.4a1.5 1.5 0 1 0 3 0a1.5 1.5 0 1 0 -3 0M328.5 320.4a1.5 1.5 0 1 0 3 0a1.5 1.5 0 1 0 -3 0M328.5 321.1a1.5 1.5 0 1 0 3 0a1.5 1.5 0 1 0 -3 0M329.0 318.4a1.5 1.5 0 1 0 3 0a1.5 1.5 0 1 0 -3 0M329.0 319.9a1.5 1.5 0 1 0 3 0a1.5 1.5 0 1 0 -3 0M329.5 318.7a1.5 1.5 0 1 0 3 0a1.5 1.5 0 1 0 -3 0M329.5 317.1a1.5 1.5 0 1 0 3 0a1.5 1.5 0 1 0 -3 0M330.0 315.1a1.5 1.5 0 1 0 3 0a1.5 1.5 0 1 0 -3 0M330.0 316.9a1.5 1.5 0 1 0 3 0a1.5 1.5 0 1 0 -3 0M330.5 316.6a1.5 1.5 0 1 0 3 0a1.5 1.5 0 1 0 -3 0M330.5 314.7a1.5 1.5 0 1 0 3 0a1.5 1.5 0 1 0 -3 0M330.9 313.7a1.5 1.5 0 1 0 3 0a1.5 1.5 0 1 0 -3 0M330.9 314.6a1.5 1.5 0 1 0 3 0a1.5 1.5 0 1 0 -3 0M331.3 312.0a1.5 1.5 0 1 0 3 0a1.5 1.5 0 1 0 -3 0M331.3 313.6a1.5 1.5 0 1 0 3 0a1.5 1.5 0 1 0 -3 0M331.7 311.9a1.5 1.5 0 1 0 3 0a1.5 1.5 0 1 0 -3 0M331.7 311.1a1.5 1.5 0 1 0 3 0a1.5 1.5 0 1 0 -3 0M332.1 310.2a1.5 1.5 0 1 0 3 0a1.5 1.5 0 1 0 -3 0M332.1 310.7a1.5 1.5 0 1 0 3 0a1.5 1.5 0 1 0 -3 0M332.5 309.3a1.5 1.5 0 1 0 3 0a1.5 1.5 0 1 0 -3 0M332.5 309.7a1.5 1.5 0 1 0 3 0a1.5 1.5 0 1 0 -3 0M334.0 308.8a1.5 1.5 0 1 0 3 0a1.5 1.5 0 1 0 -3 0M334.0 310.4a1.5 1.5 0 1 0 3 0a1.5 1.5 0 1 0 -3 0M335.5 310.0a1.5 1.5 0 1 0 3 0a1.5 1.5 0 1 0 -3 0M335.5 310.6a1.5 1.5 0 1 0 3 0a1.5 1.5 0 1 0 -3 0M336.2 312.2a1.5 1.5 0 1 0 3 0a1.5 1.5 0 1 0 -3 0M336.2 311.5a1.5 1.5 0 1 0 3 0a1.5 1.5 0 1 0 -3 0M337.0 312.6a1.5 1.5 0 1 0 3 0a1.5 1.5 0 1 0 -3 0M337.0 313.4a1.5 1.5 0 1 0 3 0a1.5 1.5 0 1 0 -3 0M337.8 315.8a1.5 1.5 0 1 0 3 0a1.5 1.5 0 1 0 -3 0M337.8 314.6a1.5 1.5 0 1 0 3 0a1.5 1.5 0 1 0 -3 0M338.5 315.7a1.5 1.5 0 1 0 3 0a1.5 1.5 0 1 0 -3 0M338.5 315.1a1.5 1.5 0 1 0 3 0a1.5 1.5 0 1 0 -3 0M339.8 314.3a1.5 1.5 0 1 0 3 0a1.5 1.5 0 1 0 -3 0M339.8 316.5a1.5 1.5 0 1 0 3 0a1.5 1.5 0 1 0 -3 0M341.2 316.9a1.5 1.5 0 1 0 3 0a1.5 1.5 0 1 0 -3 0M341.2 316.6a1.5 1.5 0 1 0 3 0a1.5 1.5 0 1 0 -3 0M342.5 315.9a1.5 1.5 0 1 0 3 0a1.5 1.5 0 1 0 -3 0M342.5 316.6a1.5 1.5 0 1 0 3 0a1.5 1.5 0 1 0 -3 0M343.1 316.9a1.5 1.5 0 1 0 3 0a1.5 1.5 0 1 0 -3 0M343.1 315.7a1.5 1.5 0 1 0 3 0a1.5 1.5 0 1 0 -3 0M343.7 314.4a1.5 1.5 0 1 0 3 0a1.5 1.5 0 1 0 -3 0M343.7 313.7a1.5 1.5 0 1 0 3 0a1.5 1.5 0 1 0 -3 0M344.3 312.7a1.5 1.5 0 1 0 3 0a1.5 1.5 0 1 0 -3 0M344.3 313.4a1.5 1.5 0 1 0 3 0a1.5 1.5 0 1 0 -3 0M344.9 311.3a1.5 1.5 0 1 0 3 0a1.5 1.5 0 1 0 -3 0M344.9 311.9a1.5 1.5 0 1 0 3 0a1.5 1.5 0 1 0 -3 0M345.5 310.8a1.5 1.5 0 1 0 3 0a1.5 1.5 0 1 0 -3 0M345.5 311.0a1.5 1.5 0 1 0 3 0a1.5 1.5 0 1 0 -3 0M346.5 310.0a1.5 1.5 0 1 0 3 0a1.5 1.5 0 1 0 -3 0M346.5 308.6a1.5 1.5 0 1 0 3 0a1.5 1.5 0 1 0 -3 0M347.5 305.8a1.5 1.5 0 1 0 3 0a1.5 1.5 0 1 0 -3 0M347.5 307.0a1.5 1.5 0 1 0 3 0a1.5 1.5 0 1 0 -3 0M348.5 308.2a1.5 1.5 0 1 0 3 0a1.5 1.5 0 1 0 -3 0M348.5 308.5a1.5 1.5 0 1 0 3 0a1.5 1.5 0 1 0 -3 0M349.5 310.6a1.5 1.5 0 1 0 3 0a1.5 1.5 0 1 0 -3 0M349.5 310.0a1.5 1.5 0 1 0 3 0a1.5 1.5 0 1 0 -3 0M350.5 308.9a1.5 1.5 0 1 0 3 0a1.5 1.5 0 1 0 -3 0M350.5 310.9a1.5 1.5 0 1 0 3 0a1.5 1.5 0 1 0 -3 0M351.8 311.2a1.5 1.5 0 1 0 3 0a1.5 1.5 0 1 0 -3 0M351.8 310.7a1.5 1.5 0 1 0 3 0a1.5 1.5 0 1 0 -3 0M353.2 310.1a1.5 1.5 0 1 0 3 0a1.5 1.5 0 1 0 -3 0M353.2 309.4a1.5 1.5 0 1 0 3 0a1.5 1.5 0 1 0 -3 0M354.5 310.7a1.5 1.5 0 1 0 3 0a1.5 1.5 0 1 0 -3 0M354.5 309.9a1.5 1.5 0 1 0 3 0a1.5 1.5 0 1 0 -3 0M355.8 309.5a1.5 1.5 0 1 0 3 0a1.5 1.5 0 1 0 -3 0M355.8 309.4a1.5 1.5 0 1 0 3 0a1.5 1.5 0 1 0 -3 0M357.2 307.6a1.5 1.5 0 1 0 3 0a1.5 1.5 0 1 0 -3 0M357.2 307.4a1.5 1.5 0 1 0 3 0a1.5 1.5 0 1 0 -3 0M358.5 307.7a1.5 1.5 0 1 0 3 0a1.5 1.5 0 1 0 -3 0M358.5 307.9a1.5 1.5 0 1 0 3 0a1.5 1.5 0 1 0 -3 0M359.5 307.5a1.5 1.5 0 1 0 3 0a1.5 1.5 0 1 0 -3 0M359.5 308.8a1.5 1.5 0 1 0 3 0a1.5 1.5 0 1 0 -3 0M360.5 311.0a1.5 1.5 0 1 0 3 0a1.5 1.5 0 1 0 -3 0M360.5 309.0a1.5 1.5 0 1 0 3 0a1.5 1.5 0 1 0 -3 0M361.5 310.9a1.5 1.5 0 1 0 3 0a1.5 1.5 0 1 0 -3 0M361.5 310.7a1.5 1.5 0 1 0 3 0a1.5 1.5 0 1 0 -3 0M362.5 311.4a1.5 1.5 0 1 0 3 0a1.5 1.5 0 1 0 -3 0M362.5 310.9a1.5 1.5 0 1 0 3 0a1.5 1.5 0 1 0 -3 0M363.1 309.5a1.5 1.5 0 1 0 3 0a1.5 1.5 0 1 0 -3 0M363.1 310.6a1.5 1.5 0 1 0 3 0a1.5 1.5 0 1 0 -3 0M363.7 310.1a1.5 1.5 0 1 0 3 0a1.5 1.5 0 1 0 -3 0M363.7 308.9a1.5 1.5 0 1 0 3 0a1.5 1.5 0 1 0 -3 0M364.3 306.5a1.5 1.5 0 1 0 3 0a1.5 1.5 0 1 0 -3 0M364.3 308.3a1.5 1.5 0 1 0 3 0a1.5 1.5 0 1 0 -3 0M364.9 307.6a1.5 1.5 0 1 0 3 0a1.5 1.5 0 1 0 -3 0M364.9 306.2a1.5 1.5 0 1 0 3 0a1.5 1.5 0 1 0 -3 0M365.5 305.8a1.5 1.5 0 1 0 3 0a1.5 1.5 0 1 0 -3 0M365.5 306.0a1.5 1.5 0 1 0 3 0a1.5 1.5 0 1 0 -3 0M367.0 305.8a1.5 1.5 0 1 0 3 0a1.5 1.5 0 1 0 -3 0M367.0 304.4a1.5 1.5 0 1 0 3 0a1.5 1.5 0 1 0 -3 0M368.5 303.4a1.5 1.5 0 1 0 3 0a1.5 1.5 0 1 0 -3 0M368.5 303.5a1.5 1.5 0 1 0 3 0a1.5 1.5 0 1 0 -3 0M370.0 302.2a1.5 1.5 0 1 0 3 0a1.5 1.5 0 1 0 -3 0M370.0 302.7a1.5 1.5 0 1 0 3 0a1.5 1.5 0 1 0 -3 0M371.5 301.9a1.5 1.5 0 1 0 3 0a1.5 1.5 0 1 0 -3 0M371.5 303.2a1.5 1.5 0 1 0 3 0a1.5 1.5 0 1 0 -3 0M373.0 302.3a1.5 1.5 0 1 0 3 0a1.5 1.5 0 1 0 -3 0M373.0 302.8a1.5 1.5 0 1 0 3 0a1.5 1.5 0 1 0 -3 0M374.5 302.2a1.5 1.5 0 1 0 3 0a1.5 1.5 0 1 0 -3 0M374.5 302.4a1.5 1.5 0 1 0 3 0a1.5 1.5 0 1 0 -3 0M375.8 301.0a1.5 1.5 0 1 0 3 0a1.5 1.5 0 1 0 -3 0M375.8 301.3a1.5 1.5 0 1 0 3 0a1.5 1.5 0 1 0 -3 0M377.2 303.5a1.5 1.5 0 1 0 3 0a1.5 1.5 0 1 0 -3 0M377.2 301.5a1.5 1.5 0 1 0 3 0a1.5 1.5 0 1 0 -3 0M378.5 300.2a1.5 1.5 0 1 0 3 0a1.5 1.5 0 1 0 -3 0M378.5 301.6a1.5 1.5 0 1 0 3 0a1.5 1.5 0 1 0 -3 0M379.8 302.1a1.5 1.5 0 1 0 3 0a1.5 1.5 0 1 0 -3 0M379.8 300.5a1.5 1.5 0 1 0 3 0a1.5 1.5 0 1 0 -3 0M381.2 301.2a1.5 1.5 0 1 0 3 0a1.5 1.5 0 1 0 -3 0M381.2 300.5a1.5 1.5 0 1 0 3 0a1.5 1.5 0 1 0 -3 0M382.5 300.6a1.5 1.5 0 1 0 3 0a1.5 1.5 0 1 0 -3 0M382.5 299.6a1.5 1.5 0 1 0 3 0a1.5 1.5 0 1 0 -3 0M382.9 297.5a1.5 1.5 0 1 0 3 0a1.5 1.5 0 1 0 -3 0M382.9 299.8a1.5 1.5 0 1 0 3 0a1.5 1.5 0 1 0 -3 0M383.3 298.9a1.5 1.5 0 1 0 3 0a1.5 1.5 0 1 0 -3 0M383.3 297.6a1.5 1.5 0 1 0 3 0a1.5 1.5 0 1 0 -3 0M383.7 296.5a1.5 1.5 0 1 0 3 0a1.5 1.5 0 1 0 -3 0M383.7 295.8a1.5 1.5 0 1 0 3 0a1.5 1.5 0 1 0 -3 0M384.1 295.8a1.5 1.5 0 1 0 3 0a1.5 1.5 0 1 0 -3 0M384.1 294.7a1.5 1.5 0 1 0 3 0a1.5 1.5 0 1 0 -3 0M384.5 294.1a1.5 1.5 0 1 0 3 0a1.5 1.5 0 1 0 -3 0M385.8 293.8a1.5 1.5 0 1 0 3 0a1.5 1.5 0 1 0 -3 0M387.2 293.9a1.5 1.5 0 1 0 3 0a1.5 1.5 0 1 0 -3 0M388.5 294.1a1.5 1.5 0 1 0 3 0a1.5 1.5 0 1 0 -3 0M389.8 293.7a1.5 1.5 0 1 0 3 0a1.5 1.5 0 1 0 -3 0M391.2 294.0a1.5 1.5 0 1 0 3 0a1.5 1.5 0 1 0 -3 0M392.5 294.9a1.5 1.5 0 1 0 3 0a1.5 1.5 0 1 0 -3 0M393.5 294.1a1.5 1.5 0 1 0 3 0a1.5 1.5 0 1 0 -3 0M394.5 293.2a1.5 1.5 0 1 0 3 0a1.5 1.5 0 1 0 -3 0M395.5 292.4a1.5 1.5 0 1 0 3 0a1.5 1.5 0 1 0 -3 0M396.5 292.5a1.5 1.5 0 1 0 3 0a1.5 1.5 0 1 0 -3 0M397.9 292.8a1.5 1.5 0 1 0 3 0a1.5 1.5 0 1 0 -3 0M399.3 291.9a1.5 1.5 0 1 0 3 0a1.5 1.5 0 1 0 -3 0M400.7 292.5a1.5 1.5 0 1 0 3 0a1.5 1.5 0 1 0 -3 0M402.1 292.3a1.5 1.5 0 1 0 3 0a1.5 1.5 0 1 0 -3 0M403.5 290.7a1.5 1.5 0 1 0 3 0a1.5 1.5 0 1 0 -3 0M404.2 290.6a1.5 1.5 0 1 0 3 0a1.5 1.5 0 1 0 -3 0M405.0 289.2a1.5 1.5 0 1 0 3 0a1.5 1.5 0 1 0 -3 0M405.8 287.8a1.5 1.5 0 1 0 3 0a1.5 1.5 0 1 0 -3 0M406.5 288.1a1.5 1.5 0 1 0 3 0a1.5 1.5 0 1 0 -3 0M407.7 286.2a1.5 1.5 0 1 0 3 0a1.5 1.5 0 1 0 -3 0M408.8 285.8a1.5 1.5 0 1 0 3 0a1.5 1.5 0 1 0 -3 0M410.0 285.1a1.5 1.5 0 1 0 3 0a1.5 1.5 0 1 0 -3 0M411.2 284.8a1.5 1.5 0 1 0 3 0a1.5 1.5 0 1 0 -3 0M412.3 283.5a1.5 1.5 0 1 0 3 0a1.5 1.5 0 1 0 -3 0M413.5 282.2a1.5 1.5 0 1 0 3 0a1.5 1.5 0 1 0 -3 0M414.8 281.8a1.5 1.5 0 1 0 3 0a1.5 1.5 0 1 0 -3 0M416.0 280.9a1.5 1.5 0 1 0 3 0a1.5 1.5 0 1 0 -3 0M417.2 281.6a1.5 1.5 0 1 0 3 0a1.5 1.5 0 1 0 -3 0M418.5 281.2a1.5 1.5 0 1 0 3 0a1.5 1.5 0 1 0 -3 0M419.8 279.2a1.5 1.5 0 1 0 3 0a1.5 1.5 0 1 0 -3 0M421.0 278.2a1.5 1.5 0 1 0 3 0a1.5 1.5 0 1 0 -3 0M422.2 277.8a1.5 1.5 0 1 0 3 0a1.5 1.5 0 1 0 -3 0M423.5 277.2a1.5 1.5 0 1 0 3 0a1.5 1.5 0 1 0 -3 0M424.5 277.2a1.5 1.5 0 1 0 3 0a1.5 1.5 0 1 0 -3 0M425.5 276.4a1.5 1.5 0 1 0 3 0a1.5 1.5 0 1 0 -3 0M426.5 275.5a1.5 1.5 0 1 0 3 0a1.5 1.5 0 1 0 -3 0M427.5 273.5a1.5 1.5 0 1 0 3 0a1.5 1.5 0 1 0 -3 0M428.5 273.9a1.5 1.5 0 1 0 3 0a1.5 1.5 0 1 0 -3 0M430.0 273.7a1.5 1.5 0 1 0 3 0a1.5 1.5 0 1 0 -3 0M431.5 273.6a1.5 1.5 0 1 0 3 0a1.5 1.5 0 1 0 -3 0M433.0 274.2a1.5 1.5 0 1 0 3 0a1.5 1.5 0 1 0 -3 0M434.5 272.7a1.5 1.5 0 1 0 3 0a1.5 1.5 0 1 0 -3 0M435.8 272.5a1.5 1.5 0 1 0 3 0a1.5 1.5 0 1 0 -3 0M437.2 273.1a1.5 1.5 0 1 0 3 0a1.5 1.5 0 1 0 -3 0M438.5 273.1a1.5 1.5 0 1 0 3 0a1.5 1.5 0 1 0 -3 0M439.8 272.0a1.5 1.5 0 1 0 3 0a1.5 1.5 0 1 0 -3 0M441.2 270.7a1.5 1.5 0 1 0 3 0a1.5 1.5 0 1 0 -3 0M442.5 270.5a1.5 1.5 0 1 0 3 0a1.5 1.5 0 1 0 -3 0M443.8 270.8a1.5 1.5 0 1 0 3 0a1.5 1.5 0 1 0 -3 0M445.0 269.8a1.5 1.5 0 1 0 3 0a1.5 1.5 0 1 0 -3 0M446.2 270.1a1.5 1.5 0 1 0 3 0a1.5 1.5 0 1 0 -3 0M447.5 270.0a1.5 1.5 0 1 0 3 0a1.5 1.5 0 1 0 -3 0M448.8 269.8a1.5 1.5 0 1 0 3 0a1.5 1.5 0 1 0 -3 0M450.0 270.4a1.5 1.5 0 1 0 3 0a1.5 1.5 0 1 0 -3 0M451.2 269.9a1.5 1.5 0 1 0 3 0a1.5 1.5 0 1 0 -3 0M452.5 270.0a1.5 1.5 0 1 0 3 0a1.5 1.5 0 1 0 -3 0" fill="none" stroke="#f00" stroke-width="1"/>
<path d="M72 221h3.5v45l-1 28h-2.5z" fill="#00f"/>
<polygon points="74,231 77,230 80,230 84,231 88,229 89,228 90,198 91.5,197 92,186 93,184.5 94.5,184.5 95,187 96.5,191 98,194 99.5,197 101,198 103,199 104,201 105,225 107,236 110,241 113,247 115,246 118,252 122,251 124,249 127,255 131,259 135,262 140,260 146,263 150,272 155,282 158,281 160,286 165,289 168,287 172,293 175,297 177,296 180,294 183,292 186,288 188,290 191,283 192,281 195,278 198,277 200,276 201,276 203,277 205,274 207,272 208.5,271 210,272 211,275 212,281 215,280 218,279 221,279 224,277 226,276 229,283 231,285 231,288 229,287 226,284 224,286 221,287 218,286 215,287 212,287 211,285 210,283 208.5,280 207,281 205,283 203,286 201,287 200,296 198,297 195,297 192,295 191,300 188,302 186,300 183,302 180,305 177,309 175,307 172,304 168,299 165,296 160,292 158,291 155,289 150,283 146,274 140,270 135,272 131,270 127,268 124,266 122,265 118,263 115,261 113,260 110,258 107,256 105,252 104,251 103,250 101,249 99.5,250 98,250 96.5,250 95,251 94.5,252 93,252 92,252 91.5,252 90,252 89,252 88,252 84,249 80,248 77,248 74,249" fill="#00f" stroke="#00f" stroke-width="1" stroke-linejoin="round"/>
<polygon points="233,291 236,291 240,292 243,293 246,293 248,292 250,293 253,290 255,292 258,297 260,298 262,300 265,303 268,303 270,301 272,303 274,306 277,311 280,315 282,314 284,308 286,296 289,293 291,296 293,310 296,314 300,317 304,317 310,322 315,322 320,322 325,319 328,317 330,315 332,308 334,303 336,308 338,314 340,318 344,319 348,314 352,313 356,312 360,311 364,313 366,313 370,308 375,305 380,304 380,307 375,309 370,313 366,318 364,320 360,318 356,322 352,324 348,322 344,327 340,326 338,326 336,327 334,328 332,329 330,330 328,334 325,332 320,332 315,333 310,332 304,328 300,326 296,326 293,325 291,320 289,316 286,317 284,320 282,325 280,330 277,327 274,322 272,317 270,314 268,316 265,321 262,322 260,317 258,314 255,317 253,320 250,316 248,314 246,318 243,320 240,315 236,310 233,304" fill="#00f" stroke="#00f" stroke-width="1" stroke-linejoin="round"/>
<path d="M71.1 235.2h5l-2.5 -4zM71.0 249.7h5l-2.5 -4zM72.5 233.3h5l-2.5 -4zM73.2 248.1h5l-2.5 -4zM74.5 234.8h5l-2.5 -4zM74.5 247.5h5l-2.5 -4zM75.3 232.8h5l-2.5 -4zM75.8 249.0h5l-2.5 -4zM76.8 233.7h5l-2.5 -4zM76.5 249.0h5l-2.5 -4zM78.0 234.2h5l-2.5 -4zM77.6 247.7h5l-2.5 -4zM78.9 234.8h5l-2.5 -4zM79.4 247.8h5l-2.5 -4zM81.0 234.0h5l-2.5 -4zM80.5 248.1h5l-2.5 -4zM81.7 235.4h5l-2.5 -4zM81.7 248.7h5l-2.5 -4zM83.2 233.5h5l-2.5 -4zM83.6 249.5h5l-2.5 -4zM85.0 232.2h5l-2.5 -4zM84.9 251.9h5l-2.5 -4zM85.5 232.4h5l-2.5 -4zM85.6 251.6h5l-2.5 -4zM86.8 213.5h5l-2.5 -4zM87.6 253.4h5l-2.5 -4zM88.8 200.2h5l-2.5 -4zM88.2 253.2h5l-2.5 -4zM89.3 190.0h5l-2.5 -4zM89.5 253.3h5l-2.5 -4zM90.5 189.0h5l-2.5 -4zM90.8 251.3h5l-2.5 -4zM91.8 190.6h5l-2.5 -4zM92.3 250.8h5l-2.5 -4zM93.5 194.7h5l-2.5 -4zM93.3 250.6h5l-2.5 -4zM94.5 195.8h5l-2.5 -4zM95.2 250.7h5l-2.5 -4zM95.9 198.2h5l-2.5 -4zM95.8 250.5h5l-2.5 -4zM97.5 200.6h5l-2.5 -4zM97.2 250.1h5l-2.5 -4zM99.0 202.7h5l-2.5 -4zM98.9 248.6h5l-2.5 -4zM99.7 203.2h5l-2.5 -4zM100.0 250.5h5l-2.5 -4zM101.0 205.3h5l-2.5 -4zM101.2 251.9h5l-2.5 -4zM103.1 229.9h5l-2.5 -4zM102.2 253.6h5l-2.5 -4zM104.0 237.9h5l-2.5 -4zM103.8 254.4h5l-2.5 -4zM105.6 240.8h5l-2.5 -4zM105.0 256.4h5l-2.5 -4zM106.7 242.1h5l-2.5 -4zM106.6 257.5h5l-2.5 -4zM107.9 244.7h5l-2.5 -4zM108.1 259.2h5l-2.5 -4zM109.6 247.8h5l-2.5 -4zM109.4 259.0h5l-2.5 -4zM110.8 249.7h5l-2.5 -4zM110.9 261.3h5l-2.5 -4zM111.8 250.2h5l-2.5 -4zM111.8 260.9h5l-2.5 -4zM112.6 252.1h5l-2.5 -4zM112.8 260.8h5l-2.5 -4zM114.0 253.0h5l-2.5 -4zM114.7 261.3h5l-2.5 -4zM115.3 256.2h5l-2.5 -4zM115.4 262.1h5l-2.5 -4zM117.1 255.6h5l-2.5 -4zM117.0 264.4h5l-2.5 -4zM117.9 256.0h5l-2.5 -4zM118.5 263.5h5l-2.5 -4zM119.2 254.7h5l-2.5 -4zM119.6 264.7h5l-2.5 -4zM120.5 253.2h5l-2.5 -4zM120.5 266.1h5l-2.5 -4zM122.6 253.4h5l-2.5 -4zM122.3 267.3h5l-2.5 -4zM123.2 257.6h5l-2.5 -4zM123.9 267.3h5l-2.5 -4zM124.7 259.9h5l-2.5 -4zM124.8 268.1h5l-2.5 -4zM126.5 261.1h5l-2.5 -4zM125.9 268.4h5l-2.5 -4zM127.2 261.5h5l-2.5 -4zM127.9 270.4h5l-2.5 -4zM129.1 263.7h5l-2.5 -4zM129.0 269.2h5l-2.5 -4zM130.0 265.0h5l-2.5 -4zM130.4 270.3h5l-2.5 -4zM131.2 265.2h5l-2.5 -4zM131.2 271.7h5l-2.5 -4zM132.2 265.6h5l-2.5 -4zM132.6 271.0h5l-2.5 -4zM133.5 266.4h5l-2.5 -4zM134.2 272.7h5l-2.5 -4zM135.3 265.5h5l-2.5 -4zM135.6 272.0h5l-2.5 -4zM136.0 264.5h5l-2.5 -4zM136.3 271.0h5l-2.5 -4zM137.6 264.1h5l-2.5 -4zM138.2 270.7h5l-2.5 -4zM138.9 264.6h5l-2.5 -4zM139.0 272.3h5l-2.5 -4zM140.2 264.8h5l-2.5 -4zM140.5 271.2h5l-2.5 -4zM141.8 267.0h5l-2.5 -4zM141.7 272.4h5l-2.5 -4zM143.0 266.6h5l-2.5 -4zM142.6 273.0h5l-2.5 -4zM143.9 268.1h5l-2.5 -4zM144.2 275.5h5l-2.5 -4zM145.3 270.5h5l-2.5 -4zM145.6 279.7h5l-2.5 -4zM147.0 274.6h5l-2.5 -4zM147.1 281.1h5l-2.5 -4zM148.4 277.1h5l-2.5 -4zM148.2 284.3h5l-2.5 -4zM149.5 279.3h5l-2.5 -4zM149.2 284.9h5l-2.5 -4zM150.8 282.1h5l-2.5 -4zM150.9 286.0h5l-2.5 -4zM152.0 285.9h5l-2.5 -4zM151.8 288.9h5l-2.5 -4zM153.4 285.0h5l-2.5 -4zM153.9 289.3h5l-2.5 -4zM155.0 284.2h5l-2.5 -4zM154.3 291.6h5l-2.5 -4zM155.9 285.0h5l-2.5 -4zM155.9 291.3h5l-2.5 -4zM157.5 288.4h5l-2.5 -4zM157.0 293.2h5l-2.5 -4zM158.8 289.6h5l-2.5 -4zM158.4 292.7h5l-2.5 -4zM160.1 291.5h5l-2.5 -4zM160.2 294.9h5l-2.5 -4zM161.2 292.6h5l-2.5 -4zM161.4 295.8h5l-2.5 -4zM162.5 293.5h5l-2.5 -4zM162.7 297.2h5l-2.5 -4zM163.4 292.8h5l-2.5 -4zM163.3 298.1h5l-2.5 -4zM165.2 291.1h5l-2.5 -4zM165.6 299.0h5l-2.5 -4zM166.3 292.8h5l-2.5 -4zM166.8 300.6h5l-2.5 -4zM167.6 294.0h5l-2.5 -4zM167.7 302.5h5l-2.5 -4zM168.8 295.8h5l-2.5 -4zM169.1 303.3h5l-2.5 -4zM170.1 298.6h5l-2.5 -4zM170.6 305.0h5l-2.5 -4zM171.5 298.8h5l-2.5 -4zM171.4 305.4h5l-2.5 -4zM173.0 300.8h5l-2.5 -4zM172.5 308.6h5l-2.5 -4zM174.0 300.8h5l-2.5 -4zM174.5 310.0h5l-2.5 -4zM175.2 299.0h5l-2.5 -4zM175.9 306.7h5l-2.5 -4zM176.3 298.4h5l-2.5 -4zM176.8 307.1h5l-2.5 -4zM178.4 297.5h5l-2.5 -4zM178.6 304.6h5l-2.5 -4zM179.4 297.0h5l-2.5 -4zM179.3 303.0h5l-2.5 -4zM180.8 295.2h5l-2.5 -4zM181.1 302.5h5l-2.5 -4zM182.0 292.8h5l-2.5 -4zM181.9 301.0h5l-2.5 -4zM183.4 292.2h5l-2.5 -4zM183.7 301.4h5l-2.5 -4zM184.6 292.8h5l-2.5 -4zM184.7 302.5h5l-2.5 -4zM185.7 292.9h5l-2.5 -4zM186.2 301.1h5l-2.5 -4zM187.0 291.0h5l-2.5 -4zM187.5 301.1h5l-2.5 -4zM188.1 287.7h5l-2.5 -4zM188.7 301.0h5l-2.5 -4zM190.3 285.4h5l-2.5 -4zM189.7 294.6h5l-2.5 -4zM190.9 283.2h5l-2.5 -4zM191.1 295.5h5l-2.5 -4zM192.1 282.2h5l-2.5 -4zM192.5 296.8h5l-2.5 -4zM194.2 281.7h5l-2.5 -4zM193.2 297.0h5l-2.5 -4zM195.3 280.5h5l-2.5 -4zM195.2 296.0h5l-2.5 -4zM196.1 281.2h5l-2.5 -4zM196.4 297.2h5l-2.5 -4zM197.3 279.8h5l-2.5 -4zM197.7 294.7h5l-2.5 -4zM199.0 280.1h5l-2.5 -4zM199.4 287.2h5l-2.5 -4zM200.1 279.7h5l-2.5 -4zM199.9 287.0h5l-2.5 -4zM201.1 278.3h5l-2.5 -4zM201.2 284.8h5l-2.5 -4zM203.1 277.8h5l-2.5 -4zM203.1 281.8h5l-2.5 -4zM203.6 276.8h5l-2.5 -4zM203.9 282.1h5l-2.5 -4zM205.3 274.4h5l-2.5 -4zM205.2 279.6h5l-2.5 -4zM207.1 275.5h5l-2.5 -4zM206.5 281.5h5l-2.5 -4zM207.9 276.2h5l-2.5 -4zM208.4 284.4h5l-2.5 -4zM209.8 283.5h5l-2.5 -4zM209.4 286.2h5l-2.5 -4zM210.1 285.5h5l-2.5 -4zM211.0 286.8h5l-2.5 -4zM212.3 284.8h5l-2.5 -4zM211.7 287.4h5l-2.5 -4zM213.7 283.6h5l-2.5 -4zM213.6 286.3h5l-2.5 -4zM214.4 283.7h5l-2.5 -4zM214.2 286.1h5l-2.5 -4zM216.2 282.8h5l-2.5 -4zM216.1 285.7h5l-2.5 -4zM216.8 282.5h5l-2.5 -4zM216.8 287.9h5l-2.5 -4zM218.2 282.9h5l-2.5 -4zM218.0 287.2h5l-2.5 -4zM219.6 281.8h5l-2.5 -4zM219.3 285.9h5l-2.5 -4zM221.3 280.8h5l-2.5 -4zM220.7 285.6h5l-2.5 -4zM222.1 279.8h5l-2.5 -4zM221.8 285.8h5l-2.5 -4zM223.4 279.2h5l-2.5 -4zM223.8 283.3h5l-2.5 -4zM224.7 283.9h5l-2.5 -4zM224.5 285.5h5l-2.5 -4zM226.5 286.8h5l-2.5 -4zM225.9 286.5h5l-2.5 -4zM227.7 287.5h5l-2.5 -4zM228.0 287.0h5l-2.5 -4zM99.1 179.0h5l-2.5 -4zM98.5 183.0h5l-2.5 -4zM98.1 187.0h5l-2.5 -4zM98.4 191.0h5l-2.5 -4zM98.0 195.0h5l-2.5 -4zM98.8 199.0h5l-2.5 -4zM98.2 202.0h5l-2.5 -4zM230.9 295.0h5l-2.5 -4zM230.4 303.6h5l-2.5 -4zM231.9 294.1h5l-2.5 -4zM232.2 305.9h5l-2.5 -4zM233.1 294.9h5l-2.5 -4zM232.9 310.1h5l-2.5 -4zM234.3 295.4h5l-2.5 -4zM234.5 310.9h5l-2.5 -4zM235.6 294.4h5l-2.5 -4zM235.4 313.8h5l-2.5 -4zM236.8 296.1h5l-2.5 -4zM236.6 314.7h5l-2.5 -4zM238.2 296.1h5l-2.5 -4zM238.1 315.5h5l-2.5 -4zM239.4 295.8h5l-2.5 -4zM239.2 319.2h5l-2.5 -4zM240.7 296.6h5l-2.5 -4zM241.3 320.6h5l-2.5 -4zM242.6 297.7h5l-2.5 -4zM241.8 318.5h5l-2.5 -4zM243.0 297.2h5l-2.5 -4zM243.7 317.8h5l-2.5 -4zM244.7 296.5h5l-2.5 -4zM245.0 315.0h5l-2.5 -4zM246.4 295.7h5l-2.5 -4zM246.2 314.0h5l-2.5 -4zM247.0 297.7h5l-2.5 -4zM247.6 316.6h5l-2.5 -4zM248.2 294.5h5l-2.5 -4zM248.4 317.1h5l-2.5 -4zM249.8 294.0h5l-2.5 -4zM249.5 319.1h5l-2.5 -4zM251.4 293.8h5l-2.5 -4zM251.6 319.2h5l-2.5 -4zM252.8 295.4h5l-2.5 -4zM252.5 317.5h5l-2.5 -4zM253.7 296.9h5l-2.5 -4zM254.2 316.5h5l-2.5 -4zM255.0 299.2h5l-2.5 -4zM255.6 314.8h5l-2.5 -4zM256.0 300.7h5l-2.5 -4zM256.1 316.4h5l-2.5 -4zM257.5 303.1h5l-2.5 -4zM258.0 317.0h5l-2.5 -4zM259.3 303.1h5l-2.5 -4zM259.3 322.0h5l-2.5 -4zM260.2 303.7h5l-2.5 -4zM260.8 321.7h5l-2.5 -4zM262.1 306.5h5l-2.5 -4zM261.9 322.3h5l-2.5 -4zM263.1 306.7h5l-2.5 -4zM262.6 320.8h5l-2.5 -4zM264.2 306.8h5l-2.5 -4zM264.7 317.3h5l-2.5 -4zM265.9 305.6h5l-2.5 -4zM265.8 316.8h5l-2.5 -4zM266.7 305.5h5l-2.5 -4zM267.4 315.1h5l-2.5 -4zM268.2 304.9h5l-2.5 -4zM267.8 314.9h5l-2.5 -4zM269.4 306.1h5l-2.5 -4zM269.3 316.3h5l-2.5 -4zM271.0 309.2h5l-2.5 -4zM270.5 319.8h5l-2.5 -4zM272.1 310.7h5l-2.5 -4zM272.5 322.8h5l-2.5 -4zM273.2 313.9h5l-2.5 -4zM273.0 325.5h5l-2.5 -4zM274.5 315.8h5l-2.5 -4zM274.7 328.0h5l-2.5 -4zM275.7 317.2h5l-2.5 -4zM276.1 328.6h5l-2.5 -4zM277.6 319.3h5l-2.5 -4zM276.9 329.5h5l-2.5 -4zM278.5 317.5h5l-2.5 -4zM278.2 326.9h5l-2.5 -4zM279.6 317.1h5l-2.5 -4zM279.8 323.3h5l-2.5 -4zM281.0 312.6h5l-2.5 -4zM281.1 320.2h5l-2.5 -4zM282.1 304.6h5l-2.5 -4zM283.0 319.3h5l-2.5 -4zM283.4 300.0h5l-2.5 -4zM284.3 317.3h5l-2.5 -4zM284.7 298.2h5l-2.5 -4zM285.0 315.9h5l-2.5 -4zM286.4 295.7h5l-2.5 -4zM286.8 316.6h5l-2.5 -4zM287.8 299.6h5l-2.5 -4zM287.9 318.0h5l-2.5 -4zM288.7 302.4h5l-2.5 -4zM288.5 322.1h5l-2.5 -4zM290.6 311.9h5l-2.5 -4zM290.0 325.0h5l-2.5 -4zM291.9 316.3h5l-2.5 -4zM291.3 326.2h5l-2.5 -4zM293.2 317.6h5l-2.5 -4zM292.7 325.2h5l-2.5 -4zM294.5 317.9h5l-2.5 -4zM294.1 326.3h5l-2.5 -4zM295.4 320.1h5l-2.5 -4zM295.2 325.1h5l-2.5 -4zM296.9 320.6h5l-2.5 -4zM297.1 326.7h5l-2.5 -4zM298.5 321.9h5l-2.5 -4zM298.1 326.5h5l-2.5 -4zM299.1 320.3h5l-2.5 -4zM299.5 326.1h5l-2.5 -4zM300.9 320.0h5l-2.5 -4zM300.6 328.9h5l-2.5 -4zM301.6 320.1h5l-2.5 -4zM301.9 327.8h5l-2.5 -4zM303.5 321.1h5l-2.5 -4zM303.6 330.3h5l-2.5 -4zM304.9 323.2h5l-2.5 -4zM304.4 330.7h5l-2.5 -4zM305.9 324.3h5l-2.5 -4zM305.7 331.0h5l-2.5 -4zM307.4 326.3h5l-2.5 -4zM307.6 331.2h5l-2.5 -4zM308.3 325.7h5l-2.5 -4zM308.6 332.0h5l-2.5 -4zM309.5 324.8h5l-2.5 -4zM309.6 332.6h5l-2.5 -4zM311.6 326.8h5l-2.5 -4zM311.5 334.1h5l-2.5 -4zM312.9 326.1h5l-2.5 -4zM312.7 332.1h5l-2.5 -4zM313.9 326.1h5l-2.5 -4zM313.5 333.1h5l-2.5 -4zM315.5 325.8h5l-2.5 -4zM315.1 332.2h5l-2.5 -4zM316.1 326.7h5l-2.5 -4zM315.8 331.7h5l-2.5 -4zM317.8 325.6h5l-2.5 -4zM317.2 332.6h5l-2.5 -4zM318.8 325.2h5l-2.5 -4zM318.8 332.3h5l-2.5 -4zM320.3 323.9h5l-2.5 -4zM319.8 331.4h5l-2.5 -4zM321.9 323.5h5l-2.5 -4zM321.1 333.1h5l-2.5 -4zM322.6 321.6h5l-2.5 -4zM322.8 331.8h5l-2.5 -4zM324.1 321.9h5l-2.5 -4zM323.8 333.4h5l-2.5 -4zM325.0 320.9h5l-2.5 -4zM325.5 333.1h5l-2.5 -4zM326.6 318.6h5l-2.5 -4zM326.6 332.7h5l-2.5 -4zM328.1 317.6h5l-2.5 -4zM328.3 329.0h5l-2.5 -4zM329.8 313.0h5l-2.5 -4zM328.9 330.1h5l-2.5 -4zM330.5 308.3h5l-2.5 -4zM331.1 328.8h5l-2.5 -4zM332.2 306.9h5l-2.5 -4zM332.2 326.9h5l-2.5 -4zM332.9 310.7h5l-2.5 -4zM332.7 327.6h5l-2.5 -4zM334.2 314.3h5l-2.5 -4zM334.7 326.5h5l-2.5 -4zM336.2 318.7h5l-2.5 -4zM336.2 326.4h5l-2.5 -4zM337.5 321.9h5l-2.5 -4zM336.8 326.8h5l-2.5 -4zM338.2 322.7h5l-2.5 -4zM338.6 327.2h5l-2.5 -4zM339.3 322.0h5l-2.5 -4zM339.9 327.8h5l-2.5 -4zM341.2 321.6h5l-2.5 -4zM341.1 326.1h5l-2.5 -4zM342.3 322.5h5l-2.5 -4zM341.9 327.2h5l-2.5 -4zM343.8 319.6h5l-2.5 -4zM343.3 324.4h5l-2.5 -4zM345.2 318.7h5l-2.5 -4zM344.5 321.8h5l-2.5 -4zM345.8 318.3h5l-2.5 -4zM345.9 322.7h5l-2.5 -4zM347.3 317.7h5l-2.5 -4zM347.4 322.3h5l-2.5 -4zM349.2 317.1h5l-2.5 -4zM349.0 324.6h5l-2.5 -4zM350.5 315.5h5l-2.5 -4zM349.9 323.1h5l-2.5 -4zM351.4 317.2h5l-2.5 -4zM351.7 322.1h5l-2.5 -4zM352.4 316.8h5l-2.5 -4zM352.9 322.3h5l-2.5 -4zM354.0 314.9h5l-2.5 -4zM354.3 321.4h5l-2.5 -4zM355.7 315.6h5l-2.5 -4zM354.9 320.0h5l-2.5 -4zM356.3 316.0h5l-2.5 -4zM356.7 318.0h5l-2.5 -4zM357.6 314.7h5l-2.5 -4zM357.9 318.6h5l-2.5 -4zM359.1 315.3h5l-2.5 -4zM358.7 319.2h5l-2.5 -4zM360.3 315.1h5l-2.5 -4zM360.5 320.9h5l-2.5 -4zM361.3 315.9h5l-2.5 -4zM362.0 319.4h5l-2.5 -4zM362.9 316.8h5l-2.5 -4zM362.9 318.8h5l-2.5 -4zM364.4 316.8h5l-2.5 -4zM364.9 316.0h5l-2.5 -4zM365.8 314.7h5l-2.5 -4zM366.1 316.1h5l-2.5 -4zM367.1 312.7h5l-2.5 -4zM366.9 313.3h5l-2.5 -4zM368.6 312.2h5l-2.5 -4zM368.7 313.0h5l-2.5 -4zM369.4 311.2h5l-2.5 -4zM369.8 311.5h5l-2.5 -4zM371.0 309.4h5l-2.5 -4zM371.0 310.3h5l-2.5 -4zM371.8 308.6h5l-2.5 -4zM372.0 310.6h5l-2.5 -4zM373.5 308.3h5l-2.5 -4zM373.2 308.2h5l-2.5 -4zM374.6 307.5h5l-2.5 -4zM374.3 309.2h5l-2.5 -4zM376.1 307.9h5l-2.5 -4zM376.2 307.3h5l-2.5 -4zM377.1 306.8h5l-2.5 -4zM377.2 306.8h5l-2.5 -4zM228.5 288.0h5l-2.5 -4zM228.8 286.3h5l-2.5 -4zM229.2 284.7h5l-2.5 -4zM229.5 283.0h5l-2.5 -4zM229.8 281.3h5l-2.5 -4zM230.2 279.7h5l-2.5 -4zM230.5 278.0h5l-2.5 -4zM231.5 276.5h5l-2.5 -4zM232.5 275.0h5l-2.5 -4zM233.2 276.7h5l-2.5 -4zM233.8 278.3h5l-2.5 -4zM234.5 280.0h5l-2.5 -4zM234.8 281.8h5l-2.5 -4zM235.0 283.5h5l-2.5 -4zM235.2 285.2h5l-2.5 -4zM235.5 287.0h5l-2.5 -4zM236.0 288.5h5l-2.5 -4zM236.5 290.0h5l-2.5 -4zM237.0 291.5h5l-2.5 -4zM237.5 293.0h5l-2.5 -4zM252.5 295.0h5l-2.5 -4zM253.7 294.2h5l-2.5 -4zM254.8 293.3h5l-2.5 -4zM256.0 292.5h5l-2.5 -4zM257.2 291.7h5l-2.5 -4zM258.3 290.8h5l-2.5 -4zM259.5 290.0h5l-2.5 -4zM260.5 289.0h5l-2.5 -4zM261.5 288.0h5l-2.5 -4zM262.5 287.0h5l-2.5 -4zM263.5 286.0h5l-2.5 -4zM264.5 285.0h5l-2.5 -4zM265.5 284.0h5l-2.5 -4zM267.5 283.0h5l-2.5 -4zM269.5 285.0h5l-2.5 -4zM270.8 287.7h5l-2.5 -4zM272.2 290.3h5l-2.5 -4zM273.5 293.0h5l-2.5 -4zM275.0 296.5h5l-2.5 -4zM276.5 300.0h5l-2.5 -4zM278.0 303.5h5l-2.5 -4zM279.5 307.0h5l-2.5 -4zM281.5 310.0h5l-2.5 -4zM377.5 307.0h5l-2.5 -4zM380.0 308.5h5l-2.5 -4zM382.5 310.0h5l-2.5 -4zM385.0 309.5h5l-2.5 -4zM387.5 309.0h5l-2.5 -4zM389.0 307.5h5l-2.5 -4zM390.5 306.0h5l-2.5 -4zM393.0 304.5h5l-2.5 -4zM395.5 303.0h5l-2.5 -4zM397.5 305.0h5l-2.5 -4zM400.0 305.5h5l-2.5 -4zM402.5 306.0h5l-2.5 -4zM404.0 304.5h5l-2.5 -4zM405.5 303.0h5l-2.5 -4zM408.0 303.5h5l-2.5 -4zM410.5 304.0h5l-2.5 -4zM413.0 302.5h5l-2.5 -4zM415.5 301.0h5l-2.5 -4zM417.5 302.5h5l-2.5 -4zM419.5 304.0h5l-2.5 -4zM421.5 304.0h5l-2.5 -4zM423.5 304.0h5l-2.5 -4zM424.5 301.5h5l-2.5 -4zM425.5 299.0h5l-2.5 -4zM427.5 292.0h5l-2.5 -4zM430.5 289.0h5l-2.5 -4zM434.5 289.0h5l-2.5 -4zM438.5 288.0h5l-2.5 -4zM442.5 288.0h5l-2.5 -4zM446.5 287.0h5l-2.5 -4zM449.5 286.0h5l-2.5 -4zM330.5 340.0h5l-2.5 -4zM330.5 346.0h5l-2.5 -4zM362.0 328.0h5l-2.5 -4zM325.5 337.0h5l-2.5 -4z" fill="#00f" stroke="none"/>
<path d="M92 195h2v1h-2zM100 207h1v1h-1zM102 207h1v1h-1zM98 213h1v2h-1zM99 215h1v1h-1zM95 196h1v1h-1zM101 199h1v1h-1zM97 193h1v1h-1zM96 221h1v1h-1zM98 224h1v1h-1zM100 219h1v1h-1z" fill="#fff"/>
<path d="M296 315 L300 316 L303 315 L307 320 L312 319 L318 322 L322 319 L326 316 L329 318 L331 312 L334 300 L336 303 L338 308 L342 313 L346 310 L349 303 L352 307 L356 306 L361 304 L364 309 L367 301 L372 300 L380 298 L384 297 L386 290 L390 290 L394 292 L398 289 L405 288 L408 284 L415 279 L420 277 L425 274 L430 270 L436 270 L440 269 L444 267 L454 267" fill="none" stroke="#000" stroke-width="1"/>
<path d="M72.0 362.2 L94.1 359.3 L129.6 359.3 L158.5 364.9 L176.7 352.5 L204.2 318.8 L228.4 301.8 L234.7 301.8 L242.3 319.6 L263.5 352.7 L271.1 358.3 L282.0 349.0 L296.1 383.5 L311.3 400.3 L326.0 406.0 L344.4 406.0 L359.7 400.3 L377.2 400.3 L408.6 405.9 L433.8 399.0 L455.0 385.7" fill="none" stroke="#000" stroke-width="1"/>
<path d="M72.0 190.6 L104.8 203.8 L120.4 233.2 L158.5 254.5 L223.3 205.1 L231.2 201.8 L244.3 211.9 L253.7 239.9 L281.5 254.5 L292.3 296.0 L411.9 268.0 L455.0 236.0" fill="none" stroke="#000" stroke-width="1"/>
<g fill="none" stroke="#f00" stroke-width="1"><ellipse cx="82.2" cy="85" rx="5" ry="4.5"/><ellipse cx="82.2" cy="94" rx="5" ry="4.5"/><path d="M82.5 80.5v4M82.5 89.5v4"/></g>
<g fill="none" stroke="#00f" stroke-width="1"><path d="M77.5 122.5h9l-4.5 -6zM82.5 116.5v6M77.5 131.5h9l-4.5 -6zM82.5 125.5v6"/></g>
<path d="M72 102.5h15M72 111.5h15M72 139.5h15M72 147.5h15" stroke="#000" stroke-width="1" fill="none"/>
<text x="95" y="89" font-size="10.67" textLength="57.0" lengthAdjust="spacing">Noise Bh</text>
<text x="95" y="98" font-size="10.67" textLength="57.0" lengthAdjust="spacing">Noise Lh</text>
<text x="95" y="107" font-size="10.67" textLength="249.5" lengthAdjust="spacing">SLM.E.CMGESP(test) BL 3663 2001.225</text>
<text x="95" y="116" font-size="10.67" textLength="249.5" lengthAdjust="spacing">SLM.E.CMGESP(test) LL 3663 2001.225</text>
<text x="95" y="125" font-size="10.67" textLength="78.4" lengthAdjust="spacing">Gnd Noise B</text>
<text x="95" y="134" font-size="10.67" textLength="78.4" lengthAdjust="spacing">Gnd Noise L</text>
<text x="95" y="143" font-size="10.67" textLength="107.0" lengthAdjust="spacing">LOW NOISE MODEL</text>
<text x="95" y="152" font-size="10.67" textLength="114.1" lengthAdjust="spacing">HIGH NOISE MODEL</text>
<text class="s n" x="64.3" y="458" font-size="21" textLength="23.6" lengthAdjust="spacingAndGlyphs">10</text>
<text class="s n" x="91.4" y="447" font-size="15" textLength="15" lengthAdjust="spacing">-1</text>
<text class="s n" x="160.1" y="458" font-size="21" textLength="23.6" lengthAdjust="spacingAndGlyphs">10</text>
<text class="s n" x="186.1" y="447" font-size="15">0</text>
<text class="s n" x="255.8" y="458" font-size="21" textLength="23.6" lengthAdjust="spacingAndGlyphs">10</text>
<text class="s n" x="281.8" y="447" font-size="15">1</text>
<text class="s n" x="351.6" y="458" font-size="21" textLength="23.6" lengthAdjust="spacingAndGlyphs">10</text>
<text class="s n" x="377.6" y="447" font-size="15">2</text>
<text class="s n" x="447.3" y="458" font-size="21" textLength="23.6" lengthAdjust="spacingAndGlyphs">10</text>
<text class="s n" x="473.3" y="447" font-size="15">3</text>
<text class="n" x="184" y="478.5" font-size="17.5" textLength="154.5" lengthAdjust="spacing">Period (sec)</text>
<text transform="translate(56 394) rotate(-90)" font-size="10.67" textLength="276" lengthAdjust="spacing">Power Spectral Density (10*LOG M**2/S**4/Hz)</text>
<text class="t" transform="translate(67.5 104) rotate(-90)" font-size="7.3" textLength="26.1" lengthAdjust="spacing">-40.00</text>
<text class="t" transform="translate(67.5 124) rotate(-90)" font-size="7.3" textLength="26.1" lengthAdjust="spacing">-60.00</text>
<text class="t" transform="translate(67.5 169) rotate(-90)" font-size="7.3" textLength="26.1" lengthAdjust="spacing">-80.00</text>
<text class="t" transform="translate(67.5 214) rotate(-90)" font-size="7.3" textLength="30.4" lengthAdjust="spacing">-100.00</text>
<text class="t" transform="translate(67.5 259) rotate(-90)" font-size="7.3" textLength="30.4" lengthAdjust="spacing">-120.00</text>
<text class="t" transform="translate(67.5 304) rotate(-90)" font-size="7.3" textLength="30.4" lengthAdjust="spacing">-140.00</text>
<text class="t" transform="translate(67.5 349) rotate(-90)" font-size="7.3" textLength="30.4" lengthAdjust="spacing">-160.00</text>
<text class="t" transform="translate(67.5 395) rotate(-90)" font-size="7.3" textLength="30.4" lengthAdjust="spacing">-180.00</text>
<text class="t" transform="translate(67.5 433) rotate(-90)" font-size="7.3" textLength="30.4" lengthAdjust="spacing">-200.00</text>
<text transform="translate(55.5 105) rotate(-90)" font-size="9.6">*10</text>
<text transform="translate(49.5 84) rotate(-90)" font-size="5.5">0</text>
</svg></body></html>
